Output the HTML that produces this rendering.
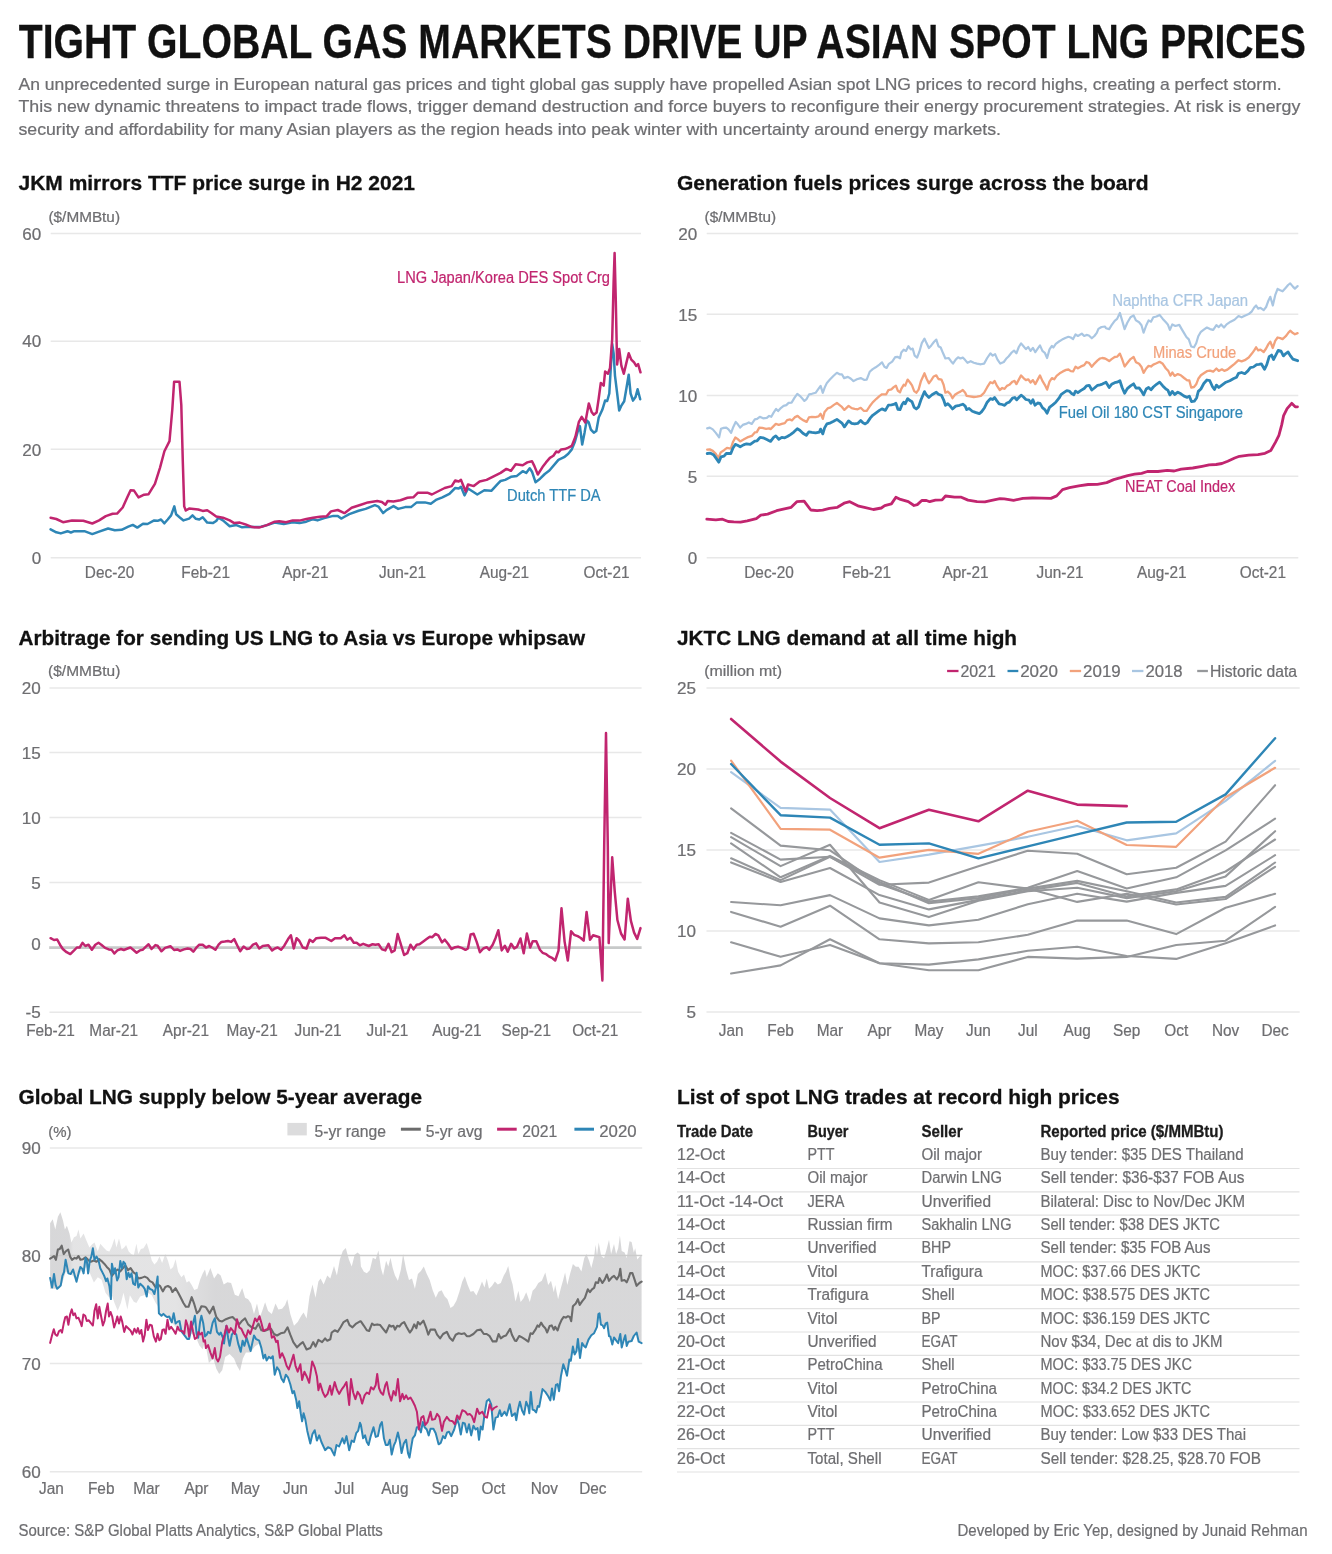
<!DOCTYPE html>
<html lang="en"><head><meta charset="utf-8"><title>Tight global gas markets drive up Asian spot LNG prices</title>
<style>
html,body{margin:0;padding:0;background:#fff}
svg{display:block;font-family:"Liberation Sans",sans-serif}
</style></head><body>
<svg width="1332" height="1554" viewBox="0 0 1332 1554">
<rect width="1332" height="1554" fill="#fff"/>
<text x="18.8" y="57.7" font-size="48.3" font-weight="700" fill="#111" textLength="1287.0" lengthAdjust="spacingAndGlyphs" stroke="#111" stroke-width="0.3">TIGHT GLOBAL GAS MARKETS DRIVE UP ASIAN SPOT LNG PRICES</text>
<text x="18.5" y="90.3" font-size="15.9" fill="#6e6e71" textLength="1263.1" lengthAdjust="spacingAndGlyphs" stroke="#6e6e71" stroke-width="0.22">An unprecedented surge in European natural gas prices and tight global gas supply have propelled Asian spot LNG prices to record highs, creating a perfect storm.</text>
<text x="18.5" y="112.2" font-size="15.9" fill="#6e6e71" textLength="1281.8" lengthAdjust="spacingAndGlyphs" stroke="#6e6e71" stroke-width="0.22">This new dynamic threatens to impact trade flows, trigger demand destruction and force buyers to reconfigure their energy procurement strategies. At risk is energy</text>
<text x="18.5" y="135.0" font-size="15.9" fill="#6e6e71" textLength="982.5" lengthAdjust="spacingAndGlyphs" stroke="#6e6e71" stroke-width="0.22">security and affordability for many Asian players as the region heads into peak winter with uncertainty around energy markets.</text>
<text x="18.5" y="189.8" font-size="20.5" font-weight="700" fill="#111" textLength="396.5" lengthAdjust="spacingAndGlyphs" stroke="#111" stroke-width="0.3">JKM mirrors TTF price surge in H2 2021</text>
<text x="677.0" y="189.8" font-size="20.5" font-weight="700" fill="#111" textLength="471.5" lengthAdjust="spacingAndGlyphs" stroke="#111" stroke-width="0.3">Generation fuels prices surge across the board</text>
<text x="18.5" y="645.2" font-size="20.5" font-weight="700" fill="#111" textLength="566.5" lengthAdjust="spacingAndGlyphs" stroke="#111" stroke-width="0.3">Arbitrage for sending US LNG to Asia vs Europe whipsaw</text>
<text x="677.0" y="645.2" font-size="20.5" font-weight="700" fill="#111" textLength="340.0" lengthAdjust="spacingAndGlyphs" stroke="#111" stroke-width="0.3">JKTC LNG demand at all time high</text>
<text x="18.5" y="1103.8" font-size="20.5" font-weight="700" fill="#111" textLength="403.5" lengthAdjust="spacingAndGlyphs" stroke="#111" stroke-width="0.3">Global LNG supply below 5-year average</text>
<text x="677.0" y="1104.2" font-size="20.5" font-weight="700" fill="#111" textLength="442.5" lengthAdjust="spacingAndGlyphs" stroke="#111" stroke-width="0.3">List of spot LNG trades at record high prices</text>
<line x1="50.7" x2="641.0" y1="233.5" y2="233.5" stroke="#e8e8e8" stroke-width="1.5"/>
<text x="41.2" y="239.7" font-size="16" fill="#6e6e71" text-anchor="end" textLength="19.0" lengthAdjust="spacingAndGlyphs" stroke="#6e6e71" stroke-width="0.22">60</text>
<line x1="50.7" x2="641.0" y1="341.2" y2="341.2" stroke="#e8e8e8" stroke-width="1.5"/>
<text x="41.2" y="347.4" font-size="16" fill="#6e6e71" text-anchor="end" textLength="19.0" lengthAdjust="spacingAndGlyphs" stroke="#6e6e71" stroke-width="0.22">40</text>
<line x1="50.7" x2="641.0" y1="449.3" y2="449.3" stroke="#e8e8e8" stroke-width="1.5"/>
<text x="41.2" y="455.5" font-size="16" fill="#6e6e71" text-anchor="end" textLength="19.0" lengthAdjust="spacingAndGlyphs" stroke="#6e6e71" stroke-width="0.22">20</text>
<line x1="50.7" x2="641.0" y1="557.7" y2="557.7" stroke="#e8e8e8" stroke-width="1.5"/>
<text x="41.2" y="563.9" font-size="16" fill="#6e6e71" text-anchor="end" textLength="9.5" lengthAdjust="spacingAndGlyphs" stroke="#6e6e71" stroke-width="0.22">0</text>
<text x="48.5" y="222.0" font-size="14" fill="#6e6e71" textLength="71.5" lengthAdjust="spacingAndGlyphs" stroke="#6e6e71" stroke-width="0.22">($/MMBtu)</text>
<text x="109.6" y="577.8" font-size="16" fill="#6e6e71" text-anchor="middle" textLength="49.5" lengthAdjust="spacingAndGlyphs" stroke="#6e6e71" stroke-width="0.22">Dec-20</text>
<text x="205.6" y="577.8" font-size="16" fill="#6e6e71" text-anchor="middle" textLength="48.7" lengthAdjust="spacingAndGlyphs" stroke="#6e6e71" stroke-width="0.22">Feb-21</text>
<text x="305.4" y="577.8" font-size="16" fill="#6e6e71" text-anchor="middle" textLength="46.1" lengthAdjust="spacingAndGlyphs" stroke="#6e6e71" stroke-width="0.22">Apr-21</text>
<text x="402.5" y="577.8" font-size="16" fill="#6e6e71" text-anchor="middle" textLength="47.0" lengthAdjust="spacingAndGlyphs" stroke="#6e6e71" stroke-width="0.22">Jun-21</text>
<text x="504.4" y="577.8" font-size="16" fill="#6e6e71" text-anchor="middle" textLength="49.5" lengthAdjust="spacingAndGlyphs" stroke="#6e6e71" stroke-width="0.22">Aug-21</text>
<text x="606.5" y="577.8" font-size="16" fill="#6e6e71" text-anchor="middle" textLength="46.1" lengthAdjust="spacingAndGlyphs" stroke="#6e6e71" stroke-width="0.22">Oct-21</text>
<path d="M50.6,529.4 L56.3,532.3 L60.8,533.4 L67.5,531.2 L70.9,532.5 L74.3,531.2 L84.4,531.2 L92.3,534.1 L99.1,531.6 L108.1,528.5 L114.8,530.3 L121.6,529.8 L128.3,526.7 L132.8,524.9 L137.3,527.6 L143.0,523.7 L147.5,524.0 L154.2,520.4 L157.6,520.8 L161.0,519.5 L164.4,523.3 L167.7,519.5 L171.1,515.4 L174.3,506.4 L176.1,514.3 L180.1,517.7 L183.5,520.4 L189.1,518.6 L192.5,515.4 L195.9,518.8 L199.3,519.5 L202.7,517.2 L207.2,522.6 L212.8,523.1 L216.2,521.0 L218.4,517.7 L222.9,520.4 L229.7,526.2 L236.4,525.1 L242.1,527.3 L247.7,526.7 L254.5,527.1 L261.2,526.7 L268.0,524.9 L274.7,522.6 L283.7,524.0 L292.7,522.2 L299.5,523.1 L306.3,521.7 L313.0,519.2 L317.5,520.4 L324.3,518.1 L333.3,515.9 L337.8,515.9 L341.2,518.6 L344.1,517.0 L349.3,514.1 L358.6,510.8 L365.6,508.9 L374.9,505.2 L378.4,506.6 L383.1,513.1 L386.5,510.1 L393.5,506.1 L398.2,508.9 L405.2,507.1 L411.0,507.1 L416.8,502.4 L424.9,502.4 L430.8,503.8 L436.6,499.6 L442.4,497.3 L449.4,493.8 L455.2,488.0 L458.7,488.5 L461.0,486.8 L464.5,495.4 L468.0,488.5 L472.7,491.5 L477.3,494.5 L484.3,490.3 L491.3,490.8 L498.2,483.3 L500.6,481.0 L505.2,479.9 L511.0,476.8 L516.9,475.9 L522.7,471.2 L526.2,472.9 L529.7,468.2 L532.0,471.7 L535.5,482.2 L540.1,478.7 L544.8,474.0 L549.4,470.5 L558.4,459.9 L564.1,457.2 L568.3,453.7 L571.8,449.4 L574.7,442.3 L577.5,432.4 L579.9,426.1 L582.2,444.5 L584.6,432.4 L586.7,420.4 L588.8,422.5 L590.9,429.6 L593.8,432.7 L596.3,431.0 L598.7,417.6 L602.3,409.8 L605.1,400.6 L607.2,401.0 L609.3,393.5 L610.8,367.4 L612.2,344.0 L613.6,353.2 L615.0,375.8 L617.1,392.8 L619.2,410.5 L621.4,405.6 L624.2,401.3 L626.6,387.2 L628.7,374.7 L630.6,393.5 L633.0,400.6 L635.5,397.1 L637.6,389.3 L640.2,399.2" fill="none" stroke="#2e86b6" stroke-width="2.5" stroke-linejoin="round" stroke-linecap="round"/>
<path d="M50.6,517.7 L56.3,519.0 L63.0,522.2 L72.0,520.4 L83.3,520.8 L92.3,523.5 L99.1,520.4 L105.8,516.1 L112.6,513.8 L117.1,513.6 L122.7,507.5 L127.2,497.4 L130.6,490.2 L134.0,490.6 L138.5,497.4 L144.1,494.7 L148.6,494.2 L154.9,483.9 L159.9,468.1 L164.4,451.2 L169.5,441.1 L172.3,409.5 L174.1,381.8 L179.5,381.8 L181.3,405.0 L182.8,461.4 L184.2,506.4 L185.8,510.5 L189.1,508.6 L198.2,509.5 L202.7,510.9 L207.2,510.2 L211.7,513.2 L216.2,516.5 L222.9,517.7 L229.7,520.4 L234.2,523.1 L239.8,522.6 L245.5,524.4 L252.2,527.1 L259.0,527.6 L266.8,525.1 L274.7,521.7 L279.2,521.3 L286.0,522.2 L292.7,520.4 L299.5,520.6 L306.3,519.0 L313.0,517.7 L319.8,516.8 L326.5,516.3 L331.0,511.4 L337.8,510.0 L343.4,512.7 L344.7,513.1 L351.6,507.8 L360.9,504.8 L367.9,502.4 L377.2,501.0 L381.9,502.0 L385.4,504.8 L387.7,501.0 L393.5,501.5 L400.5,500.3 L407.5,497.8 L413.3,497.3 L418.0,492.7 L427.3,492.7 L431.9,494.5 L437.7,491.5 L444.7,488.0 L451.7,486.1 L455.2,480.5 L458.7,481.5 L461.0,479.9 L463.3,485.7 L465.7,491.5 L468.0,484.5 L473.8,486.1 L479.6,481.5 L486.6,479.9 L493.6,476.4 L500.6,472.9 L506.4,468.9 L511.0,470.8 L515.7,464.3 L522.7,465.2 L527.3,462.4 L532.0,461.2 L534.3,465.9 L537.8,474.5 L542.5,467.1 L546.0,462.4 L549.9,457.9 L553.4,455.8 L556.3,451.5 L558.4,452.3 L561.2,449.4 L564.8,449.1 L568.3,447.7 L571.8,445.9 L575.4,436.7 L578.9,421.8 L581.7,416.9 L585.3,422.5 L588.8,403.4 L591.6,411.9 L593.8,414.8 L596.6,412.6 L598.7,398.5 L600.8,382.9 L603.7,385.7 L605.1,371.6 L607.9,373.7 L610.0,368.1 L612.2,339.1 L613.6,282.5 L614.6,253.0 L615.7,296.6 L617.1,364.5 L619.2,349.0 L621.4,365.9 L623.8,373.7 L626.3,363.1 L628.7,353.2 L631.3,359.6 L634.1,362.4 L636.2,365.9 L638.1,364.2 L640.5,372.3" fill="none" stroke="#c1256f" stroke-width="2.5" stroke-linejoin="round" stroke-linecap="round"/>
<text x="397.0" y="282.5" font-size="16" fill="#c1256f" textLength="213.0" lengthAdjust="spacingAndGlyphs" stroke="#c1256f" stroke-width="0.22">LNG Japan/Korea DES Spot Crg</text>
<text x="507.1" y="500.8" font-size="16" fill="#2e86b6" textLength="93.5" lengthAdjust="spacingAndGlyphs" stroke="#2e86b6" stroke-width="0.22">Dutch TTF DA</text>
<line x1="706.7" x2="1298.3" y1="233.5" y2="233.5" stroke="#e8e8e8" stroke-width="1.5"/>
<text x="697.2" y="239.7" font-size="16" fill="#6e6e71" text-anchor="end" textLength="19.0" lengthAdjust="spacingAndGlyphs" stroke="#6e6e71" stroke-width="0.22">20</text>
<line x1="706.7" x2="1298.3" y1="314.3" y2="314.3" stroke="#e8e8e8" stroke-width="1.5"/>
<text x="697.2" y="320.5" font-size="16" fill="#6e6e71" text-anchor="end" textLength="19.0" lengthAdjust="spacingAndGlyphs" stroke="#6e6e71" stroke-width="0.22">15</text>
<line x1="706.7" x2="1298.3" y1="395.6" y2="395.6" stroke="#e8e8e8" stroke-width="1.5"/>
<text x="697.2" y="401.8" font-size="16" fill="#6e6e71" text-anchor="end" textLength="19.0" lengthAdjust="spacingAndGlyphs" stroke="#6e6e71" stroke-width="0.22">10</text>
<line x1="706.7" x2="1298.3" y1="476.3" y2="476.3" stroke="#e8e8e8" stroke-width="1.5"/>
<text x="697.2" y="482.5" font-size="16" fill="#6e6e71" text-anchor="end" textLength="9.5" lengthAdjust="spacingAndGlyphs" stroke="#6e6e71" stroke-width="0.22">5</text>
<line x1="706.7" x2="1298.3" y1="557.7" y2="557.7" stroke="#e8e8e8" stroke-width="1.5"/>
<text x="697.2" y="563.9" font-size="16" fill="#6e6e71" text-anchor="end" textLength="9.5" lengthAdjust="spacingAndGlyphs" stroke="#6e6e71" stroke-width="0.22">0</text>
<text x="704.6" y="222.0" font-size="14" fill="#6e6e71" textLength="71.5" lengthAdjust="spacingAndGlyphs" stroke="#6e6e71" stroke-width="0.22">($/MMBtu)</text>
<text x="769.0" y="577.8" font-size="16" fill="#6e6e71" text-anchor="middle" textLength="49.5" lengthAdjust="spacingAndGlyphs" stroke="#6e6e71" stroke-width="0.22">Dec-20</text>
<text x="866.7" y="577.8" font-size="16" fill="#6e6e71" text-anchor="middle" textLength="48.7" lengthAdjust="spacingAndGlyphs" stroke="#6e6e71" stroke-width="0.22">Feb-21</text>
<text x="965.5" y="577.8" font-size="16" fill="#6e6e71" text-anchor="middle" textLength="46.1" lengthAdjust="spacingAndGlyphs" stroke="#6e6e71" stroke-width="0.22">Apr-21</text>
<text x="1060.0" y="577.8" font-size="16" fill="#6e6e71" text-anchor="middle" textLength="47.0" lengthAdjust="spacingAndGlyphs" stroke="#6e6e71" stroke-width="0.22">Jun-21</text>
<text x="1161.8" y="577.8" font-size="16" fill="#6e6e71" text-anchor="middle" textLength="49.5" lengthAdjust="spacingAndGlyphs" stroke="#6e6e71" stroke-width="0.22">Aug-21</text>
<text x="1262.9" y="577.8" font-size="16" fill="#6e6e71" text-anchor="middle" textLength="46.1" lengthAdjust="spacingAndGlyphs" stroke="#6e6e71" stroke-width="0.22">Oct-21</text>
<path d="M707.2,428.4 L709.8,427.6 L712.8,429.4 L715.8,432.9 L719.1,437.4 L721.0,428.8 L723.7,427.9 L726.3,427.6 L728.5,429.4 L731.1,432.9 L733.3,426.9 L735.7,421.9 L737.8,424.3 L740.2,427.6 L742.8,424.9 L745.8,423.9 L748.8,422.4 L751.8,423.9 L754.8,419.4 L757.1,418.9 L759.8,416.8 L763.1,418.3 L766.8,417.9 L769.1,415.9 L771.3,416.8 L773.6,412.6 L776.1,408.9 L778.1,411.1 L781.1,407.8 L783.6,405.9 L786.3,405.1 L788.6,402.9 L791.6,402.6 L794.6,397.6 L797.3,393.8 L799.8,395.8 L802.1,398.3 L804.4,400.9 L806.6,399.1 L809.2,394.3 L811.9,393.8 L815.6,392.8 L818.6,388.6 L820.6,385.9 L822.8,392.8 L824.6,387.8 L826.9,382.9 L829.9,379.6 L833.6,375.8 L836.9,372.8 L839.6,374.3 L841.9,374.3 L844.1,378.1 L847.9,376.9 L850.9,378.8 L853.5,381.1 L856.9,379.3 L860.7,378.1 L864.4,379.9 L866.7,379.6 L869.7,371.8 L872.7,369.1 L875.7,367.3 L879.4,364.6 L882.0,362.3 L884.4,366.8 L886.6,367.9 L888.9,363.8 L892.2,361.6 L895.2,357.1 L897.4,356.8 L900.0,358.3 L901.3,352.5 L903.7,349.7 L906.0,350.9 L908.4,346.2 L910.8,349.4 L912.7,348.6 L914.7,355.7 L917.1,357.6 L919.4,351.7 L921.8,343.1 L924.5,338.6 L926.5,343.1 L928.9,348.1 L931.3,345.4 L934.1,341.8 L936.3,339.6 L938.4,346.2 L940.7,347.5 L943.1,353.3 L945.4,358.5 L948.6,358.0 L951.0,361.2 L953.0,363.6 L955.7,359.6 L958.1,357.3 L960.4,358.5 L962.8,357.6 L965.2,360.1 L967.5,362.8 L970.7,361.2 L973.8,362.8 L977.0,363.6 L980.9,364.3 L984.1,363.6 L987.2,358.0 L990.4,353.3 L992.7,355.7 L995.1,354.1 L997.5,359.6 L1000.3,363.6 L1003.8,362.0 L1006.1,358.8 L1008.5,356.5 L1011.7,352.5 L1014.0,350.6 L1016.4,353.3 L1018.8,347.0 L1021.1,343.4 L1023.5,346.2 L1025.9,349.1 L1028.2,347.0 L1030.6,350.9 L1032.9,347.8 L1035.3,352.2 L1037.7,348.6 L1040.0,345.4 L1042.4,350.9 L1044.8,352.8 L1047.1,358.0 L1049.5,349.4 L1051.9,345.9 L1053.4,347.5 L1055.8,343.8 L1059.0,341.5 L1062.1,339.6 L1065.3,338.0 L1068.4,336.8 L1070.8,337.5 L1073.1,339.1 L1075.5,334.4 L1077.9,336.0 L1081.8,333.6 L1084.2,336.0 L1086.5,334.9 L1088.9,335.5 L1091.8,338.3 L1094.4,336.0 L1096.8,332.8 L1098.4,328.9 L1101.5,327.0 L1105.0,326.5 L1106.0,328.3 L1109.2,329.1 L1111.6,325.2 L1114.7,320.8 L1117.1,318.9 L1119.9,312.9 L1122.1,320.4 L1124.6,329.1 L1127.3,322.8 L1130.5,317.3 L1133.6,315.4 L1136.0,320.4 L1139.1,322.3 L1141.5,325.2 L1143.6,332.7 L1146.2,325.5 L1148.6,320.4 L1151.0,321.7 L1153.3,317.3 L1156.5,316.5 L1159.6,314.9 L1162.8,318.9 L1165.9,322.3 L1167.8,324.4 L1169.9,329.9 L1172.3,324.4 L1175.4,326.0 L1179.3,324.9 L1181.7,329.1 L1184.1,333.1 L1186.4,337.0 L1188.8,339.4 L1191.2,346.5 L1194.0,347.3 L1196.2,343.3 L1198.3,336.2 L1200.9,331.8 L1203.8,329.6 L1206.9,327.5 L1210.1,329.1 L1213.2,329.9 L1216.4,325.2 L1218.8,327.1 L1221.1,324.4 L1224.0,327.5 L1226.6,324.4 L1230.6,321.7 L1234.5,319.7 L1238.5,316.0 L1241.6,317.3 L1244.8,315.7 L1248.7,314.1 L1251.9,311.3 L1254.2,307.5 L1256.1,305.5 L1258.2,308.6 L1260.5,307.8 L1263.7,310.2 L1266.1,307.0 L1268.4,300.7 L1270.3,296.8 L1272.8,305.5 L1275.2,295.2 L1277.6,288.9 L1280.2,290.2 L1282.6,291.3 L1285.8,287.7 L1288.1,285.0 L1290.2,283.4 L1292.9,286.6 L1294.9,288.6 L1297.6,286.1" fill="none" stroke="#a9c6e2" stroke-width="2.2" stroke-linejoin="round" stroke-linecap="round"/>
<path d="M707.2,449.7 L709.8,449.4 L712.8,450.9 L715.8,453.9 L718.3,458.4 L720.7,452.4 L724.0,450.2 L727.0,447.9 L730.8,448.6 L733.0,441.9 L735.3,437.4 L737.5,438.9 L740.2,441.4 L743.5,439.6 L747.3,437.4 L751.8,435.9 L754.8,432.4 L756.8,432.1 L759.3,427.6 L762.3,427.9 L766.1,428.8 L769.1,428.4 L770.6,429.1 L773.6,426.1 L775.8,423.9 L778.8,424.9 L781.8,423.9 L784.8,423.1 L787.1,420.1 L790.1,419.4 L791.9,420.4 L794.6,417.4 L797.6,415.9 L800.6,418.6 L803.6,420.4 L806.6,421.9 L808.9,417.4 L811.9,416.8 L815.6,417.1 L818.6,416.4 L820.6,413.8 L822.8,418.9 L824.6,411.9 L827.6,408.4 L830.6,407.4 L833.6,405.1 L836.9,402.9 L839.6,405.1 L841.9,406.9 L844.4,409.9 L848.6,405.9 L851.7,408.1 L854.7,408.9 L857.7,409.3 L860.7,407.8 L863.7,410.8 L866.7,410.8 L869.7,406.3 L872.7,402.4 L876.4,398.8 L879.4,396.1 L882.0,394.3 L886.2,394.3 L888.4,390.1 L891.4,389.3 L893.7,387.1 L895.9,385.6 L897.9,390.8 L900.0,392.3 L901.3,388.8 L903.7,384.8 L905.2,385.6 L907.6,379.6 L910.0,382.5 L912.0,385.3 L914.2,391.1 L916.3,392.7 L918.6,389.6 L921.0,380.9 L924.5,373.3 L926.5,378.5 L928.9,383.3 L931.3,380.1 L933.6,376.5 L936.3,375.4 L938.4,379.0 L941.5,379.6 L943.6,384.8 L945.4,392.7 L947.8,391.6 L950.2,393.8 L952.5,398.2 L954.9,394.8 L958.1,392.7 L960.4,391.6 L962.8,390.0 L965.2,392.7 L966.7,395.9 L969.9,396.3 L973.8,397.0 L977.0,396.7 L980.9,395.9 L984.1,392.7 L987.2,387.2 L990.4,382.2 L992.7,383.3 L994.6,380.9 L996.7,385.3 L999.8,390.0 L1002.2,388.0 L1004.6,388.8 L1006.9,385.9 L1009.3,384.8 L1012.5,381.7 L1014.5,380.9 L1016.4,384.1 L1018.8,379.6 L1021.1,375.4 L1023.5,378.1 L1025.9,380.1 L1028.2,379.3 L1030.6,382.5 L1032.9,380.1 L1035.3,384.1 L1037.7,379.6 L1040.0,375.4 L1042.4,380.9 L1044.8,384.8 L1047.1,389.6 L1049.5,381.7 L1051.9,378.1 L1054.2,379.3 L1056.6,375.9 L1059.7,373.3 L1062.9,371.4 L1066.1,369.9 L1068.4,369.5 L1070.8,371.1 L1073.1,371.4 L1075.5,366.7 L1077.9,368.3 L1081.0,366.4 L1084.2,365.1 L1086.5,362.0 L1088.9,362.8 L1091.8,366.7 L1094.4,363.6 L1097.6,360.4 L1100.0,358.5 L1102.3,358.0 L1105.0,358.5 L1106.0,359.1 L1109.2,361.1 L1111.6,359.1 L1114.7,357.0 L1117.1,356.7 L1119.9,353.6 L1122.1,359.1 L1124.6,366.5 L1127.3,363.0 L1130.5,359.1 L1133.6,357.0 L1136.0,362.2 L1139.1,363.8 L1141.5,367.0 L1143.6,372.8 L1146.2,368.5 L1148.6,365.9 L1151.0,366.5 L1153.3,364.6 L1156.5,363.3 L1159.6,361.8 L1162.8,363.8 L1165.9,368.5 L1168.3,370.9 L1170.4,375.6 L1172.3,372.5 L1174.6,375.9 L1177.8,374.1 L1180.9,375.3 L1184.1,378.0 L1187.2,380.4 L1189.3,380.4 L1191.2,387.5 L1194.0,387.0 L1196.2,384.3 L1198.3,378.8 L1200.9,375.3 L1203.8,373.3 L1206.9,371.2 L1210.1,370.6 L1213.2,371.7 L1216.4,368.5 L1218.8,370.9 L1221.9,369.3 L1224.3,370.9 L1227.4,369.6 L1230.6,367.0 L1234.5,363.8 L1238.5,360.2 L1241.6,361.4 L1244.8,360.2 L1248.7,357.5 L1251.9,353.6 L1254.2,350.4 L1256.1,347.3 L1258.2,350.4 L1260.5,349.6 L1263.7,352.0 L1266.1,348.5 L1268.4,344.1 L1270.3,341.7 L1272.8,348.0 L1275.2,340.9 L1277.6,337.5 L1280.2,338.1 L1282.6,339.1 L1285.8,336.2 L1288.1,333.1 L1290.2,330.7 L1292.9,333.1 L1294.9,334.3 L1297.6,333.1" fill="none" stroke="#f2a27c" stroke-width="2.3" stroke-linejoin="round" stroke-linecap="round"/>
<path d="M707.2,453.5 L710.5,453.2 L713.5,454.7 L716.2,458.4 L718.8,462.2 L721.0,456.9 L724.0,456.2 L726.3,453.5 L730.8,453.5 L733.0,447.9 L735.3,444.4 L737.5,445.3 L740.2,446.8 L743.5,444.9 L746.5,443.8 L750.3,444.4 L754.8,441.1 L757.1,440.8 L760.1,437.4 L763.1,437.8 L766.8,439.6 L770.6,441.4 L773.6,437.4 L775.8,435.9 L778.8,439.3 L781.8,437.4 L784.8,437.8 L787.8,436.3 L790.8,434.4 L793.8,432.1 L797.3,428.8 L799.8,430.3 L802.9,433.3 L806.3,435.4 L808.9,431.8 L811.9,432.4 L815.6,432.9 L819.4,432.1 L820.6,429.1 L822.8,433.9 L824.6,427.9 L826.9,423.9 L830.6,422.8 L833.6,421.3 L836.9,419.4 L839.6,421.3 L841.9,423.1 L844.4,426.9 L848.6,420.9 L851.7,423.4 L854.7,423.9 L857.7,423.4 L860.7,420.4 L862.9,422.8 L865.2,423.9 L867.4,422.4 L870.4,417.9 L872.7,415.3 L876.4,412.6 L879.4,410.4 L882.0,408.9 L885.4,410.4 L888.4,405.1 L891.4,404.8 L893.7,404.4 L895.9,403.3 L897.9,409.3 L900.0,409.6 L902.1,404.5 L903.7,402.2 L905.2,403.8 L907.6,398.6 L910.0,400.6 L912.0,401.7 L914.2,407.4 L916.3,409.0 L918.6,406.9 L921.0,399.8 L924.5,391.6 L926.5,395.1 L928.9,397.5 L932.0,394.8 L936.3,392.2 L938.4,394.3 L941.5,395.4 L943.6,399.8 L945.4,405.3 L947.8,403.8 L950.2,406.1 L952.5,409.0 L955.7,406.1 L959.6,405.3 L962.8,404.2 L965.2,406.1 L966.7,409.6 L969.1,408.5 L972.3,411.2 L975.4,412.4 L979.3,413.7 L981.7,411.6 L984.5,407.7 L987.2,402.2 L990.4,398.6 L992.7,399.5 L994.6,397.5 L996.7,400.6 L999.1,403.8 L1002.2,404.5 L1004.6,405.3 L1006.9,403.0 L1009.3,402.2 L1012.5,398.2 L1014.8,397.5 L1016.7,399.8 L1018.8,397.5 L1021.1,395.1 L1023.5,397.0 L1025.9,399.5 L1029.0,400.1 L1030.9,403.3 L1032.9,399.8 L1035.0,405.3 L1037.7,403.0 L1040.0,403.3 L1042.4,407.7 L1044.8,409.6 L1047.1,413.2 L1049.5,407.4 L1052.7,404.9 L1055.8,402.2 L1059.0,398.2 L1061.3,394.3 L1064.5,392.2 L1066.8,390.7 L1069.2,391.1 L1071.6,393.5 L1073.9,394.8 L1075.5,391.1 L1077.9,392.7 L1081.0,390.4 L1084.2,388.5 L1086.5,385.9 L1089.2,385.3 L1091.8,390.0 L1094.4,388.0 L1097.6,385.3 L1100.0,384.8 L1102.3,384.1 L1105.0,382.8 L1106.0,382.2 L1109.2,387.5 L1111.6,384.3 L1114.7,382.7 L1117.1,382.2 L1119.9,380.7 L1122.1,387.5 L1124.6,393.3 L1127.3,388.6 L1130.5,385.9 L1133.6,383.8 L1136.0,388.2 L1139.1,387.9 L1141.5,391.1 L1143.6,394.9 L1146.2,389.0 L1148.6,387.5 L1151.0,389.8 L1153.3,387.0 L1156.5,384.3 L1159.6,382.2 L1162.8,385.9 L1165.9,389.0 L1167.8,390.1 L1169.9,394.9 L1172.3,391.4 L1174.6,394.5 L1177.8,392.2 L1180.9,393.8 L1184.1,396.1 L1187.2,397.4 L1189.3,396.1 L1191.5,401.6 L1194.3,401.2 L1196.7,397.7 L1198.3,391.4 L1200.9,389.0 L1203.8,383.5 L1206.9,380.0 L1209.8,380.7 L1212.5,386.7 L1214.5,389.5 L1216.4,385.1 L1218.8,387.5 L1221.9,385.1 L1225.9,382.2 L1229.8,380.7 L1233.7,378.5 L1236.6,377.2 L1238.5,373.3 L1241.6,372.5 L1244.8,373.7 L1247.9,370.9 L1250.3,367.7 L1253.4,367.0 L1256.6,364.6 L1259.0,364.3 L1261.3,363.8 L1264.5,369.3 L1266.8,364.6 L1269.2,356.7 L1271.6,355.1 L1273.5,359.5 L1275.8,355.1 L1278.2,350.4 L1281.0,351.2 L1283.4,355.9 L1285.8,353.6 L1288.1,352.0 L1290.5,355.9 L1292.9,359.1 L1295.2,359.9 L1297.6,360.7" fill="none" stroke="#2e86b6" stroke-width="2.8" stroke-linejoin="round" stroke-linecap="round"/>
<path d="M706.8,519.2 L715.8,519.9 L722.5,519.2 L728.2,521.5 L733.8,521.9 L740.5,522.2 L747.3,520.8 L756.3,518.6 L760.8,515.2 L767.6,514.1 L776.6,510.7 L783.3,509.1 L791.2,507.3 L796.8,501.7 L804.1,501.2 L810.8,510.0 L817.1,510.7 L822.7,510.2 L829.5,508.4 L837.4,507.3 L844.1,503.2 L849.8,501.7 L854.3,503.9 L858.8,506.2 L864.4,507.3 L873.4,509.5 L881.3,508.0 L884.7,505.7 L891.4,503.9 L895.9,497.2 L900.5,499.4 L908.3,501.7 L914.0,505.5 L917.3,504.6 L921.8,500.5 L926.4,500.5 L929.7,501.7 L935.4,500.1 L942.1,499.9 L945.5,496.0 L954.5,497.2 L961.3,497.2 L968.0,500.1 L977.0,501.7 L984.9,501.9 L992.8,500.1 L1000.0,498.7 L1004.3,498.9 L1013.6,500.3 L1022.9,498.4 L1032.2,498.0 L1041.5,498.2 L1050.9,498.4 L1056.7,495.9 L1062.5,489.6 L1069.5,487.7 L1078.8,485.9 L1088.1,484.5 L1097.4,484.3 L1106.7,482.6 L1113.7,479.6 L1120.7,477.7 L1127.7,475.6 L1134.6,474.2 L1141.6,473.3 L1147.4,471.5 L1157.9,471.5 L1167.2,470.3 L1174.2,471.0 L1181.2,469.1 L1192.8,468.0 L1202.1,466.3 L1209.1,464.9 L1216.1,464.5 L1221.9,463.5 L1227.7,461.2 L1234.7,458.0 L1239.4,456.3 L1248.7,455.2 L1258.0,454.7 L1265.0,453.3 L1270.8,450.5 L1275.4,442.4 L1278.9,435.4 L1281.7,424.9 L1283.6,415.6 L1287.1,408.6 L1291.7,403.3 L1295.2,406.8 L1297.5,406.8" fill="none" stroke="#c1256f" stroke-width="2.8" stroke-linejoin="round" stroke-linecap="round"/>
<text x="1112.2" y="305.5" font-size="16" fill="#a9c6e2" textLength="135.9" lengthAdjust="spacingAndGlyphs" stroke="#a9c6e2" stroke-width="0.22">Naphtha CFR Japan</text>
<text x="1152.9" y="358.3" font-size="16" fill="#f2a27c" textLength="83.4" lengthAdjust="spacingAndGlyphs" stroke="#f2a27c" stroke-width="0.22">Minas Crude</text>
<text x="1058.7" y="418.2" font-size="16" fill="#2e86b6" textLength="184.3" lengthAdjust="spacingAndGlyphs" stroke="#2e86b6" stroke-width="0.22">Fuel Oil 180 CST Singapore</text>
<text x="1125.1" y="492.0" font-size="16" fill="#c1256f" textLength="110.1" lengthAdjust="spacingAndGlyphs" stroke="#c1256f" stroke-width="0.22">NEAT Coal Index</text>
<line x1="49.5" x2="641.6" y1="688.0" y2="688.0" stroke="#e8e8e8" stroke-width="1.5"/>
<text x="40.8" y="694.2" font-size="16" fill="#6e6e71" text-anchor="end" textLength="19.0" lengthAdjust="spacingAndGlyphs" stroke="#6e6e71" stroke-width="0.22">20</text>
<line x1="49.5" x2="641.6" y1="752.6" y2="752.6" stroke="#e8e8e8" stroke-width="1.5"/>
<text x="40.8" y="758.8" font-size="16" fill="#6e6e71" text-anchor="end" textLength="19.0" lengthAdjust="spacingAndGlyphs" stroke="#6e6e71" stroke-width="0.22">15</text>
<line x1="49.5" x2="641.6" y1="817.4" y2="817.4" stroke="#e8e8e8" stroke-width="1.5"/>
<text x="40.8" y="823.6" font-size="16" fill="#6e6e71" text-anchor="end" textLength="19.0" lengthAdjust="spacingAndGlyphs" stroke="#6e6e71" stroke-width="0.22">10</text>
<line x1="49.5" x2="641.6" y1="882.5" y2="882.5" stroke="#e8e8e8" stroke-width="1.5"/>
<text x="40.8" y="888.7" font-size="16" fill="#6e6e71" text-anchor="end" textLength="9.5" lengthAdjust="spacingAndGlyphs" stroke="#6e6e71" stroke-width="0.22">5</text>
<line x1="49.2" x2="641.6" y1="947.6" y2="947.6" stroke="#c7c9c9" stroke-width="2.8"/>
<text x="40.8" y="949.8" font-size="16" fill="#6e6e71" text-anchor="end" textLength="9.5" lengthAdjust="spacingAndGlyphs" stroke="#6e6e71" stroke-width="0.22">0</text>
<line x1="49.5" x2="641.6" y1="1012.2" y2="1012.2" stroke="#e8e8e8" stroke-width="1.5"/>
<text x="40.8" y="1018.4" font-size="16" fill="#6e6e71" text-anchor="end" textLength="15.2" lengthAdjust="spacingAndGlyphs" stroke="#6e6e71" stroke-width="0.22">-5</text>
<text x="48.1" y="676.0" font-size="14" fill="#6e6e71" textLength="72.2" lengthAdjust="spacingAndGlyphs" stroke="#6e6e71" stroke-width="0.22">($/MMBtu)</text>
<text x="50.5" y="1035.6" font-size="16" fill="#6e6e71" text-anchor="middle" textLength="48.7" lengthAdjust="spacingAndGlyphs" stroke="#6e6e71" stroke-width="0.22">Feb-21</text>
<text x="113.7" y="1035.6" font-size="16" fill="#6e6e71" text-anchor="middle" textLength="48.7" lengthAdjust="spacingAndGlyphs" stroke="#6e6e71" stroke-width="0.22">Mar-21</text>
<text x="185.9" y="1035.6" font-size="16" fill="#6e6e71" text-anchor="middle" textLength="46.1" lengthAdjust="spacingAndGlyphs" stroke="#6e6e71" stroke-width="0.22">Apr-21</text>
<text x="252.1" y="1035.6" font-size="16" fill="#6e6e71" text-anchor="middle" textLength="51.2" lengthAdjust="spacingAndGlyphs" stroke="#6e6e71" stroke-width="0.22">May-21</text>
<text x="318.0" y="1035.6" font-size="16" fill="#6e6e71" text-anchor="middle" textLength="47.0" lengthAdjust="spacingAndGlyphs" stroke="#6e6e71" stroke-width="0.22">Jun-21</text>
<text x="387.5" y="1035.6" font-size="16" fill="#6e6e71" text-anchor="middle" textLength="41.8" lengthAdjust="spacingAndGlyphs" stroke="#6e6e71" stroke-width="0.22">Jul-21</text>
<text x="456.9" y="1035.6" font-size="16" fill="#6e6e71" text-anchor="middle" textLength="49.5" lengthAdjust="spacingAndGlyphs" stroke="#6e6e71" stroke-width="0.22">Aug-21</text>
<text x="526.2" y="1035.6" font-size="16" fill="#6e6e71" text-anchor="middle" textLength="49.5" lengthAdjust="spacingAndGlyphs" stroke="#6e6e71" stroke-width="0.22">Sep-21</text>
<text x="595.2" y="1035.6" font-size="16" fill="#6e6e71" text-anchor="middle" textLength="46.1" lengthAdjust="spacingAndGlyphs" stroke="#6e6e71" stroke-width="0.22">Oct-21</text>
<path d="M50.6,938.2 L54.0,940.0 L57.2,939.5 L60.0,944.7 L62.8,949.0 L66.6,952.2 L70.3,954.1 L74.1,950.4 L76.9,947.5 L79.7,947.5 L82.5,942.8 L85.4,946.0 L88.5,944.7 L91.9,949.8 L95.3,944.7 L98.5,942.8 L101.3,944.7 L105.1,947.9 L108.8,949.4 L111.6,949.8 L114.4,953.5 L117.3,950.4 L121.0,949.0 L123.8,950.0 L127.6,948.5 L130.4,947.5 L133.2,949.8 L136.6,952.8 L139.8,950.4 L142.6,949.8 L145.4,947.2 L148.6,944.3 L151.6,949.0 L155.4,945.1 L157.6,945.7 L161.4,951.3 L165.1,947.9 L170.4,946.2 L174.1,950.0 L177.3,949.4 L180.1,950.9 L183.9,949.4 L187.6,948.5 L190.5,949.0 L193.3,951.7 L196.1,947.9 L199.3,944.7 L202.7,944.7 L206.0,947.5 L209.2,946.0 L212.0,947.5 L215.4,949.8 L218.6,944.7 L221.4,941.9 L224.8,941.5 L228.0,941.0 L231.2,941.9 L234.2,939.1 L237.4,945.7 L240.2,951.3 L243.6,946.6 L246.8,949.0 L249.6,948.5 L253.0,944.7 L256.1,943.4 L259.3,948.5 L262.7,946.0 L268.3,945.3 L272.1,950.4 L274.9,948.5 L277.7,947.5 L281.1,949.8 L284.3,945.7 L288.1,939.1 L290.9,935.3 L293.8,948.5 L296.6,938.2 L299.4,941.0 L302.8,947.5 L306.5,948.5 L309.7,939.7 L312.9,941.9 L316.3,938.2 L321.0,937.8 L325.7,937.8 L331.3,941.0 L335.0,938.2 L340.7,938.2 L344.4,935.3 L347.2,939.7 L350.4,937.8 L353.8,942.8 L356.6,942.8 L359.8,945.3 L363.2,943.8 L368.8,946.0 L372.6,944.2 L375.4,944.7 L378.6,944.3 L382.0,949.4 L385.3,950.4 L388.5,943.8 L391.7,952.2 L394.7,950.4 L397.7,934.0 L400.7,943.8 L404.1,955.0 L407.3,953.2 L410.5,944.7 L413.5,949.4 L416.7,944.7 L419.5,944.3 L423.3,941.5 L426.6,939.1 L429.8,936.7 L432.3,937.2 L435.5,934.0 L438.3,935.3 L442.0,942.3 L444.8,939.7 L448.0,943.8 L451.4,949.0 L455.2,947.2 L458.0,946.6 L461.7,947.9 L465.5,949.8 L467.9,948.5 L470.6,934.4 L473.6,933.8 L476.7,941.9 L479.9,952.2 L483.3,948.5 L486.7,947.2 L489.3,949.8 L492.7,944.7 L495.5,938.2 L498.3,930.3 L501.7,950.4 L504.9,945.7 L507.7,951.7 L511.1,943.8 L514.3,948.5 L517.1,946.6 L520.5,938.5 L523.7,953.2 L526.9,933.5 L530.2,947.5 L532.7,941.3 L536.3,941.3 L539.9,949.7 L542.6,952.8 L546.2,954.2 L548.9,956.4 L552.5,958.2 L555.2,960.5 L558.5,950.6 L561.5,908.3 L564.6,941.6 L567.8,960.5 L571.1,931.2 L574.1,934.8 L577.7,936.2 L580.8,938.0 L583.7,940.7 L586.6,911.9 L590.0,939.8 L593.1,935.3 L596.3,936.2 L599.4,937.1 L602.4,980.4 L604.2,846.1 L606.0,733.0 L607.8,846.1 L608.7,943.1 L610.5,900.2 L612.2,857.3 L614.7,891.2 L617.4,920.0 L621.0,933.5 L624.6,939.5 L627.8,898.7 L630.9,920.9 L634.1,932.6 L637.2,938.9 L640.5,928.1" fill="none" stroke="#c1256f" stroke-width="2.5" stroke-linejoin="round" stroke-linecap="round"/>
<line x1="706.5" x2="1299.7" y1="688.0" y2="688.0" stroke="#e8e8e8" stroke-width="1.5"/>
<text x="696.0" y="694.2" font-size="16" fill="#6e6e71" text-anchor="end" textLength="19.0" lengthAdjust="spacingAndGlyphs" stroke="#6e6e71" stroke-width="0.22">25</text>
<line x1="706.5" x2="1299.7" y1="768.9" y2="768.9" stroke="#e8e8e8" stroke-width="1.5"/>
<text x="696.0" y="775.1" font-size="16" fill="#6e6e71" text-anchor="end" textLength="19.0" lengthAdjust="spacingAndGlyphs" stroke="#6e6e71" stroke-width="0.22">20</text>
<line x1="706.5" x2="1299.7" y1="849.9" y2="849.9" stroke="#e8e8e8" stroke-width="1.5"/>
<text x="696.0" y="856.1" font-size="16" fill="#6e6e71" text-anchor="end" textLength="19.0" lengthAdjust="spacingAndGlyphs" stroke="#6e6e71" stroke-width="0.22">15</text>
<line x1="706.5" x2="1299.7" y1="930.9" y2="930.9" stroke="#e8e8e8" stroke-width="1.5"/>
<text x="696.0" y="937.1" font-size="16" fill="#6e6e71" text-anchor="end" textLength="19.0" lengthAdjust="spacingAndGlyphs" stroke="#6e6e71" stroke-width="0.22">10</text>
<line x1="706.5" x2="1299.7" y1="1012.1" y2="1012.1" stroke="#e8e8e8" stroke-width="1.5"/>
<text x="696.0" y="1018.3" font-size="16" fill="#6e6e71" text-anchor="end" textLength="9.5" lengthAdjust="spacingAndGlyphs" stroke="#6e6e71" stroke-width="0.22">5</text>
<text x="704.2" y="676.0" font-size="14" fill="#6e6e71" textLength="77.9" lengthAdjust="spacingAndGlyphs" stroke="#6e6e71" stroke-width="0.22">(million mt)</text>
<text x="731.1" y="1035.6" font-size="16" fill="#6e6e71" text-anchor="middle" textLength="24.8" lengthAdjust="spacingAndGlyphs" stroke="#6e6e71" stroke-width="0.22">Jan</text>
<text x="780.6" y="1035.6" font-size="16" fill="#6e6e71" text-anchor="middle" textLength="26.5" lengthAdjust="spacingAndGlyphs" stroke="#6e6e71" stroke-width="0.22">Feb</text>
<text x="830.0" y="1035.6" font-size="16" fill="#6e6e71" text-anchor="middle" textLength="26.5" lengthAdjust="spacingAndGlyphs" stroke="#6e6e71" stroke-width="0.22">Mar</text>
<text x="879.5" y="1035.6" font-size="16" fill="#6e6e71" text-anchor="middle" textLength="23.9" lengthAdjust="spacingAndGlyphs" stroke="#6e6e71" stroke-width="0.22">Apr</text>
<text x="928.9" y="1035.6" font-size="16" fill="#6e6e71" text-anchor="middle" textLength="29.0" lengthAdjust="spacingAndGlyphs" stroke="#6e6e71" stroke-width="0.22">May</text>
<text x="978.4" y="1035.6" font-size="16" fill="#6e6e71" text-anchor="middle" textLength="24.8" lengthAdjust="spacingAndGlyphs" stroke="#6e6e71" stroke-width="0.22">Jun</text>
<text x="1027.8" y="1035.6" font-size="16" fill="#6e6e71" text-anchor="middle" textLength="19.6" lengthAdjust="spacingAndGlyphs" stroke="#6e6e71" stroke-width="0.22">Jul</text>
<text x="1077.2" y="1035.6" font-size="16" fill="#6e6e71" text-anchor="middle" textLength="27.3" lengthAdjust="spacingAndGlyphs" stroke="#6e6e71" stroke-width="0.22">Aug</text>
<text x="1126.7" y="1035.6" font-size="16" fill="#6e6e71" text-anchor="middle" textLength="27.3" lengthAdjust="spacingAndGlyphs" stroke="#6e6e71" stroke-width="0.22">Sep</text>
<text x="1176.2" y="1035.6" font-size="16" fill="#6e6e71" text-anchor="middle" textLength="23.9" lengthAdjust="spacingAndGlyphs" stroke="#6e6e71" stroke-width="0.22">Oct</text>
<text x="1225.6" y="1035.6" font-size="16" fill="#6e6e71" text-anchor="middle" textLength="27.3" lengthAdjust="spacingAndGlyphs" stroke="#6e6e71" stroke-width="0.22">Nov</text>
<text x="1275.1" y="1035.6" font-size="16" fill="#6e6e71" text-anchor="middle" textLength="27.3" lengthAdjust="spacingAndGlyphs" stroke="#6e6e71" stroke-width="0.22">Dec</text>
<path d="M731.1,808.3 L780.6,845.6 L830.0,850.3 L879.5,883.9 L928.9,901.6 L978.4,896.4 L1027.8,887.8 L1077.2,871.0 L1126.7,888.6 L1176.2,877.3 L1225.6,850.3 L1275.1,818.7" fill="none" stroke="#96989b" stroke-width="2.1" stroke-linejoin="round" stroke-linecap="round"/>
<path d="M731.1,832.9 L780.6,859.6 L830.0,856.8 L879.5,882.0 L928.9,903.3 L978.4,898.1 L1027.8,888.6 L1077.2,880.9 L1126.7,891.2 L1176.2,902.5 L1225.6,896.9 L1275.1,862.5" fill="none" stroke="#96989b" stroke-width="2.1" stroke-linejoin="round" stroke-linecap="round"/>
<path d="M731.1,837.2 L780.6,866.1 L830.0,844.7 L879.5,902.5 L928.9,917.1 L978.4,900.7 L1027.8,891.2 L1077.2,887.8 L1126.7,898.1 L1176.2,891.2 L1225.6,876.4 L1275.1,831.2" fill="none" stroke="#96989b" stroke-width="2.1" stroke-linejoin="round" stroke-linecap="round"/>
<path d="M731.1,843.4 L780.6,877.3 L830.0,855.9 L879.5,880.1 L928.9,899.9 L978.4,882.3 L1027.8,888.6 L1077.2,901.9 L1126.7,893.8 L1176.2,904.5 L1225.6,899.0 L1275.1,866.8" fill="none" stroke="#96989b" stroke-width="2.1" stroke-linejoin="round" stroke-linecap="round"/>
<path d="M731.1,858.3 L780.6,880.1 L830.0,856.8 L879.5,884.8 L928.9,882.6 L978.4,866.2 L1027.8,850.7 L1077.2,853.8 L1126.7,874.3 L1176.2,867.7 L1225.6,841.6 L1275.1,785.2" fill="none" stroke="#96989b" stroke-width="2.1" stroke-linejoin="round" stroke-linecap="round"/>
<path d="M731.1,862.4 L780.6,882.0 L830.0,868.0 L879.5,895.1 L928.9,909.4 L978.4,899.9 L1027.8,890.4 L1077.2,882.9 L1126.7,896.4 L1176.2,889.4 L1225.6,871.5 L1275.1,839.5" fill="none" stroke="#96989b" stroke-width="2.1" stroke-linejoin="round" stroke-linecap="round"/>
<path d="M731.1,902.0 L780.6,905.3 L830.0,895.1 L879.5,918.4 L928.9,925.4 L978.4,919.7 L1027.8,904.2 L1077.2,893.8 L1126.7,901.6 L1176.2,892.9 L1225.6,885.9 L1275.1,855.2" fill="none" stroke="#96989b" stroke-width="2.1" stroke-linejoin="round" stroke-linecap="round"/>
<path d="M731.1,911.9 L780.6,926.8 L830.0,905.7 L879.5,939.3 L928.9,943.4 L978.4,942.2 L1027.8,934.8 L1077.2,920.6 L1126.7,920.6 L1176.2,934.1 L1225.6,907.7 L1275.1,893.8" fill="none" stroke="#96989b" stroke-width="2.1" stroke-linejoin="round" stroke-linecap="round"/>
<path d="M731.1,942.3 L780.6,956.7 L830.0,944.9 L879.5,963.2 L928.9,964.6 L978.4,959.4 L1027.8,950.8 L1077.2,946.8 L1126.7,956.0 L1176.2,958.9 L1225.6,943.3 L1275.1,925.4" fill="none" stroke="#96989b" stroke-width="2.1" stroke-linejoin="round" stroke-linecap="round"/>
<path d="M731.1,973.5 L780.6,965.4 L830.0,939.3 L879.5,963.2 L928.9,970.3 L978.4,970.3 L1027.8,956.9 L1077.2,958.6 L1126.7,956.9 L1176.2,945.0 L1225.6,940.7 L1275.1,906.8" fill="none" stroke="#96989b" stroke-width="2.1" stroke-linejoin="round" stroke-linecap="round"/>
<path d="M731.1,772.2 L780.6,807.9 L830.0,809.6 L879.5,862.0 L928.9,854.6 L978.4,845.8 L1027.8,836.8 L1077.2,826.0 L1126.7,840.3 L1176.2,833.3 L1225.6,800.8 L1275.1,760.8" fill="none" stroke="#a9c6e2" stroke-width="2.2" stroke-linejoin="round" stroke-linecap="round"/>
<path d="M731.1,760.7 L780.6,828.8 L830.0,829.7 L879.5,857.7 L928.9,849.8 L978.4,853.8 L1027.8,831.7 L1077.2,820.8 L1126.7,845.0 L1176.2,846.8 L1225.6,797.3 L1275.1,767.8" fill="none" stroke="#f2a27c" stroke-width="2.2" stroke-linejoin="round" stroke-linecap="round"/>
<path d="M731.1,764.0 L780.6,815.2 L830.0,817.6 L879.5,844.7 L928.9,843.4 L978.4,858.4 L1027.8,846.3 L1077.2,834.4 L1126.7,822.5 L1176.2,821.7 L1225.6,794.4 L1275.1,738.2" fill="none" stroke="#2e86b6" stroke-width="2.4" stroke-linejoin="round" stroke-linecap="round"/>
<path d="M731.1,719.0 L780.6,761.6 L830.0,798.0 L879.5,828.2 L928.9,809.7 L978.4,821.3 L1027.8,790.7 L1077.2,804.6 L1126.7,806.1" fill="none" stroke="#c1256f" stroke-width="2.6" stroke-linejoin="round" stroke-linecap="round"/>
<line x1="947.1" x2="958.5" y1="671.0" y2="671.0" stroke="#c1256f" stroke-width="2.3"/>
<text x="960.4" y="676.7" font-size="16" fill="#6e6e71" textLength="35.4" lengthAdjust="spacingAndGlyphs" stroke="#6e6e71" stroke-width="0.22">2021</text>
<line x1="1007.5" x2="1018.3" y1="671.0" y2="671.0" stroke="#2e86b6" stroke-width="2.3"/>
<text x="1020.2" y="676.7" font-size="16" fill="#6e6e71" textLength="37.7" lengthAdjust="spacingAndGlyphs" stroke="#6e6e71" stroke-width="0.22">2020</text>
<line x1="1069.8" x2="1081.1" y1="671.0" y2="671.0" stroke="#f2a27c" stroke-width="2.3"/>
<text x="1083.1" y="676.7" font-size="16" fill="#6e6e71" textLength="37.6" lengthAdjust="spacingAndGlyphs" stroke="#6e6e71" stroke-width="0.22">2019</text>
<line x1="1132.0" x2="1143.4" y1="671.0" y2="671.0" stroke="#a9c6e2" stroke-width="2.3"/>
<text x="1145.4" y="676.7" font-size="16" fill="#6e6e71" textLength="37.1" lengthAdjust="spacingAndGlyphs" stroke="#6e6e71" stroke-width="0.22">2018</text>
<line x1="1197.2" x2="1207.9" y1="671.0" y2="671.0" stroke="#96989b" stroke-width="2.3"/>
<text x="1209.9" y="676.7" font-size="16" fill="#6e6e71" textLength="87.2" lengthAdjust="spacingAndGlyphs" stroke="#6e6e71" stroke-width="0.22">Historic data</text>
<line x1="49.8" x2="642.2" y1="1147.9" y2="1147.9" stroke="#e8e8e8" stroke-width="1.5"/>
<line x1="49.8" x2="642.2" y1="1363.4" y2="1363.4" stroke="#e8e8e8" stroke-width="1.5"/>
<line x1="49.8" x2="642.2" y1="1471.7" y2="1471.7" stroke="#e8e8e8" stroke-width="1.5"/>
<defs><linearGradient id="bg" gradientUnits="userSpaceOnUse" x1="50" y1="0" x2="642" y2="0"><stop offset="0.0000" stop-color="#a9a9ac" stop-opacity="0.46"/><stop offset="0.0321" stop-color="#a9a9ac" stop-opacity="0.46"/><stop offset="0.0389" stop-color="#a9a9ac" stop-opacity="0.32"/><stop offset="0.2111" stop-color="#a9a9ac" stop-opacity="0.32"/><stop offset="0.2787" stop-color="#a9a9ac" stop-opacity="0.46"/><stop offset="1.0000" stop-color="#a9a9ac" stop-opacity="0.46"/></linearGradient></defs>
<path d="M50.1,1223.2 L52.7,1219.3 L55.3,1229.6 L57.9,1216.7 L60.4,1212.2 L63.0,1220.6 L64.9,1229.6 L66.9,1225.7 L69.5,1233.5 L71.4,1242.5 L74.0,1237.3 L76.5,1236.0 L78.5,1229.6 L80.4,1238.6 L83.6,1233.5 L86.2,1239.9 L89.4,1247.6 L92.0,1244.4 L94.5,1242.5 L97.8,1251.5 L100.3,1243.8 L103.6,1247.6 L106.8,1250.8 L109.4,1251.5 L111.9,1246.3 L114.5,1238.6 L116.4,1247.6 L119.0,1238.6 L121.6,1249.5 L124.2,1247.6 L126.1,1245.0 L128.7,1251.5 L131.2,1254.1 L133.8,1255.3 L136.4,1243.8 L138.3,1254.1 L140.9,1248.9 L143.5,1248.3 L146.7,1243.1 L149.2,1250.8 L151.8,1260.5 L154.4,1264.4 L157.0,1261.8 L159.5,1256.6 L162.1,1263.1 L165.3,1254.1 L167.9,1260.5 L170.5,1269.5 L173.1,1266.9 L175.6,1259.2 L178.2,1272.1 L181.4,1277.2 L184.0,1274.6 L186.6,1282.4 L189.1,1281.1 L191.7,1284.9 L194.3,1290.1 L197.5,1288.8 L200.1,1279.8 L202.7,1273.4 L205.0,1269.5 L206.7,1277.0 L210.4,1268.1 L214.1,1278.5 L217.8,1273.3 L220.7,1275.5 L223.7,1284.4 L227.4,1282.2 L231.1,1282.9 L234.8,1294.8 L238.5,1296.2 L242.2,1288.1 L245.1,1297.7 L248.1,1299.2 L251.1,1303.6 L254.0,1314.0 L257.0,1303.6 L259.9,1317.0 L262.2,1311.0 L265.1,1302.2 L268.1,1311.0 L271.8,1314.0 L275.5,1303.6 L278.4,1309.6 L282.1,1308.8 L285.1,1305.1 L287.3,1299.2 L290.3,1314.0 L294.0,1325.8 L297.7,1322.1 L301.4,1315.5 L303.6,1312.5 L306.6,1318.4 L309.5,1296.2 L312.5,1284.4 L315.5,1297.7 L318.4,1281.4 L320.6,1278.5 L323.6,1284.4 L327.3,1275.5 L330.3,1278.5 L334.0,1265.9 L336.9,1275.5 L339.9,1259.2 L342.8,1251.1 L345.8,1248.1 L348.8,1259.2 L351.7,1266.6 L354.7,1254.8 L357.6,1252.6 L360.0,1254.8 L360.9,1266.6 L363.9,1271.8 L366.8,1273.3 L369.8,1270.3 L372.8,1257.8 L375.7,1259.2 L378.4,1250.4 L380.9,1268.1 L383.1,1275.5 L386.1,1260.7 L388.3,1266.6 L390.5,1257.8 L392.7,1268.1 L395.0,1275.5 L397.9,1280.7 L400.9,1269.6 L403.1,1254.1 L406.1,1269.6 L409.0,1280.0 L412.0,1278.5 L414.9,1288.8 L417.9,1274.0 L420.9,1271.1 L423.8,1266.6 L426.8,1274.0 L429.7,1280.0 L432.7,1290.3 L435.7,1297.7 L438.6,1291.8 L441.6,1290.3 L444.6,1296.2 L447.5,1299.2 L450.5,1308.1 L453.4,1305.9 L456.4,1300.7 L459.4,1291.8 L462.3,1281.4 L464.8,1276.3 L467.5,1284.4 L470.5,1291.8 L473.4,1291.1 L476.4,1295.5 L479.3,1288.8 L482.0,1281.4 L484.5,1287.4 L486.7,1278.5 L489.0,1288.8 L491.9,1285.9 L494.9,1281.4 L497.8,1284.4 L500.8,1282.9 L503.8,1275.5 L506.0,1271.8 L508.2,1265.9 L510.4,1277.0 L512.6,1284.4 L515.0,1299.2 L515.6,1301.4 L518.4,1290.8 L520.6,1302.1 L523.4,1298.5 L526.2,1292.2 L529.8,1302.1 L532.6,1290.8 L535.4,1287.9 L538.3,1283.0 L541.8,1280.8 L545.3,1272.4 L548.2,1285.1 L551.0,1280.8 L553.8,1292.2 L555.2,1285.1 L558.1,1299.2 L560.9,1287.9 L563.3,1279.4 L565.1,1272.4 L567.3,1285.1 L570.1,1273.8 L572.9,1263.9 L575.8,1266.7 L578.6,1266.7 L581.4,1271.6 L584.2,1258.2 L586.4,1254.0 L589.2,1261.0 L591.3,1268.1 L594.1,1256.8 L595.6,1244.8 L597.0,1255.4 L598.7,1242.6 L601.2,1256.1 L604.1,1258.2 L606.9,1248.3 L609.0,1239.8 L611.1,1254.0 L614.0,1244.1 L616.1,1254.0 L618.2,1248.3 L619.9,1235.6 L621.7,1251.1 L624.6,1252.5 L626.7,1258.2 L629.5,1241.2 L631.6,1241.9 L633.8,1252.5 L635.2,1248.3 L637.3,1259.6 L639.4,1256.8 L641.6,1255.4 L641.6,1343.1 L638.7,1341.7 L636.6,1332.5 L633.8,1336.0 L631.6,1341.0 L628.4,1341.7 L626.7,1345.9 L625.3,1335.3 L623.9,1339.6 L621.7,1347.4 L620.3,1333.9 L618.2,1343.1 L616.1,1340.3 L614.0,1337.4 L612.3,1344.5 L610.4,1336.7 L609.0,1336.0 L607.2,1322.6 L605.7,1323.3 L604.1,1328.2 L602.6,1325.4 L600.9,1324.7 L599.5,1313.4 L598.4,1314.1 L597.0,1326.8 L594.1,1333.2 L591.3,1335.3 L588.5,1339.6 L585.7,1347.4 L584.0,1345.9 L582.1,1343.1 L580.0,1358.0 L577.9,1338.9 L576.5,1350.9 L574.6,1354.4 L572.9,1346.6 L570.8,1360.8 L569.4,1359.4 L567.0,1375.7 L565.1,1369.3 L563.3,1364.3 L560.9,1376.4 L559.1,1391.2 L557.6,1384.1 L555.9,1384.9 L553.8,1399.7 L552.0,1388.4 L550.3,1400.4 L548.2,1396.2 L545.3,1391.9 L542.5,1389.1 L539.2,1406.8 L537.8,1406.1 L536.1,1412.4 L534.4,1410.3 L532.6,1409.6 L530.8,1391.9 L529.3,1413.2 L528.3,1406.8 L526.2,1401.8 L524.1,1414.6 L522.0,1410.3 L519.9,1401.8 L518.0,1409.6 L516.3,1420.2 L515.0,1413.2 L511.9,1416.1 L509.7,1404.3 L506.7,1415.4 L504.5,1411.7 L501.5,1416.1 L499.8,1410.2 L497.8,1416.9 L495.6,1417.6 L493.4,1429.5 L491.2,1404.3 L489.0,1399.1 L486.7,1401.3 L484.5,1414.7 L482.6,1429.5 L480.8,1426.5 L479.0,1439.8 L477.6,1428.0 L475.6,1429.5 L473.4,1425.8 L471.2,1435.4 L469.0,1424.3 L466.8,1432.4 L464.8,1423.5 L462.8,1422.8 L460.8,1434.6 L458.9,1424.3 L457.1,1419.1 L454.2,1429.5 L451.2,1436.1 L449.0,1431.7 L447.1,1432.4 L445.0,1438.3 L443.1,1436.1 L440.8,1442.8 L438.6,1444.3 L435.7,1433.2 L433.4,1428.7 L430.5,1428.7 L428.7,1435.4 L426.8,1429.5 L424.6,1427.2 L422.8,1422.1 L420.9,1432.4 L418.9,1427.2 L416.9,1427.2 L414.9,1435.4 L412.7,1438.3 L411.2,1447.2 L409.5,1457.6 L408.0,1453.1 L406.1,1439.8 L403.8,1443.5 L401.6,1453.1 L399.7,1440.6 L397.9,1432.4 L395.7,1441.3 L393.8,1445.7 L391.7,1454.6 L389.8,1439.8 L387.9,1445.0 L385.8,1445.0 L383.9,1438.3 L381.9,1422.1 L380.2,1425.0 L377.9,1436.1 L375.7,1436.9 L373.5,1427.2 L370.5,1436.9 L368.6,1445.0 L366.8,1442.0 L365.1,1435.4 L363.1,1438.3 L360.9,1425.0 L360.0,1422.8 L358.1,1430.9 L356.2,1433.2 L353.9,1442.0 L351.7,1440.6 L349.2,1450.2 L346.5,1436.1 L344.3,1443.5 L342.4,1438.3 L339.1,1446.5 L336.5,1445.0 L334.4,1455.4 L331.0,1448.7 L328.0,1447.2 L325.1,1450.2 L321.4,1442.0 L319.2,1435.4 L316.9,1440.6 L314.7,1430.2 L312.5,1433.9 L310.3,1443.5 L307.3,1430.9 L305.4,1419.8 L303.6,1413.2 L302.1,1421.3 L300.7,1413.2 L299.2,1401.3 L297.4,1408.0 L296.2,1399.9 L294.0,1391.0 L292.5,1393.2 L290.3,1384.3 L288.1,1377.7 L285.8,1374.7 L283.6,1382.1 L281.4,1378.4 L279.2,1370.3 L277.0,1367.3 L274.7,1374.7 L272.8,1356.2 L271.0,1358.4 L268.8,1356.9 L266.6,1360.6 L265.1,1354.7 L263.4,1358.4 L261.4,1348.1 L259.2,1343.6 L254.8,1346.6 L250.3,1352.5 L245.9,1352.5 L242.9,1358.4 L240.0,1371.0 L237.0,1365.8 L234.0,1358.4 L229.6,1354.0 L225.2,1356.9 L222.2,1370.3 L219.2,1374.0 L216.3,1368.8 L213.3,1358.4 L208.9,1362.9 L205.0,1341.6 L202.7,1349.3 L199.4,1345.4 L195.6,1336.4 L191.7,1333.8 L187.9,1339.0 L184.0,1335.1 L180.1,1330.0 L176.3,1327.4 L172.4,1323.6 L168.6,1318.4 L164.7,1315.8 L160.8,1314.5 L158.3,1306.8 L155.7,1303.0 L151.8,1295.2 L148.0,1292.7 L144.1,1295.2 L140.2,1296.5 L136.4,1303.0 L133.8,1301.7 L129.9,1295.2 L127.4,1309.4 L123.5,1292.7 L120.9,1303.0 L117.7,1310.7 L114.5,1303.0 L111.9,1295.2 L109.4,1297.8 L105.5,1292.7 L101.6,1279.8 L97.8,1277.2 L93.9,1282.4 L90.0,1273.4 L86.2,1266.9 L81.0,1272.1 L75.9,1279.8 L70.7,1273.4 L65.6,1272.1 L61.7,1284.9 L57.9,1288.8 L54.0,1288.8 L50.1,1288.8Z" fill="url(#bg)" stroke="none"/>
<line x1="49.8" x2="642.2" y1="1255.6" y2="1255.6" stroke="#cbcbcb" stroke-width="1.5"/>
<text x="40.8" y="1154.1" font-size="16" fill="#6e6e71" text-anchor="end" textLength="19.0" lengthAdjust="spacingAndGlyphs" stroke="#6e6e71" stroke-width="0.22">90</text>
<text x="40.8" y="1261.8" font-size="16" fill="#6e6e71" text-anchor="end" textLength="19.0" lengthAdjust="spacingAndGlyphs" stroke="#6e6e71" stroke-width="0.22">80</text>
<text x="40.8" y="1369.6" font-size="16" fill="#6e6e71" text-anchor="end" textLength="19.0" lengthAdjust="spacingAndGlyphs" stroke="#6e6e71" stroke-width="0.22">70</text>
<text x="40.8" y="1477.9" font-size="16" fill="#6e6e71" text-anchor="end" textLength="19.0" lengthAdjust="spacingAndGlyphs" stroke="#6e6e71" stroke-width="0.22">60</text>
<text x="48.3" y="1137.0" font-size="14" fill="#6e6e71" textLength="23.3" lengthAdjust="spacingAndGlyphs" stroke="#6e6e71" stroke-width="0.22">(%)</text>
<text x="51.4" y="1494.2" font-size="16" fill="#6e6e71" text-anchor="middle" textLength="24.8" lengthAdjust="spacingAndGlyphs" stroke="#6e6e71" stroke-width="0.22">Jan</text>
<text x="101.2" y="1494.2" font-size="16" fill="#6e6e71" text-anchor="middle" textLength="26.5" lengthAdjust="spacingAndGlyphs" stroke="#6e6e71" stroke-width="0.22">Feb</text>
<text x="146.4" y="1494.2" font-size="16" fill="#6e6e71" text-anchor="middle" textLength="26.5" lengthAdjust="spacingAndGlyphs" stroke="#6e6e71" stroke-width="0.22">Mar</text>
<text x="196.4" y="1494.2" font-size="16" fill="#6e6e71" text-anchor="middle" textLength="23.9" lengthAdjust="spacingAndGlyphs" stroke="#6e6e71" stroke-width="0.22">Apr</text>
<text x="245.3" y="1494.2" font-size="16" fill="#6e6e71" text-anchor="middle" textLength="29.0" lengthAdjust="spacingAndGlyphs" stroke="#6e6e71" stroke-width="0.22">May</text>
<text x="295.5" y="1494.2" font-size="16" fill="#6e6e71" text-anchor="middle" textLength="24.8" lengthAdjust="spacingAndGlyphs" stroke="#6e6e71" stroke-width="0.22">Jun</text>
<text x="344.4" y="1494.2" font-size="16" fill="#6e6e71" text-anchor="middle" textLength="19.6" lengthAdjust="spacingAndGlyphs" stroke="#6e6e71" stroke-width="0.22">Jul</text>
<text x="394.8" y="1494.2" font-size="16" fill="#6e6e71" text-anchor="middle" textLength="27.3" lengthAdjust="spacingAndGlyphs" stroke="#6e6e71" stroke-width="0.22">Aug</text>
<text x="445.1" y="1494.2" font-size="16" fill="#6e6e71" text-anchor="middle" textLength="27.3" lengthAdjust="spacingAndGlyphs" stroke="#6e6e71" stroke-width="0.22">Sep</text>
<text x="493.4" y="1494.2" font-size="16" fill="#6e6e71" text-anchor="middle" textLength="23.9" lengthAdjust="spacingAndGlyphs" stroke="#6e6e71" stroke-width="0.22">Oct</text>
<text x="544.3" y="1494.2" font-size="16" fill="#6e6e71" text-anchor="middle" textLength="27.3" lengthAdjust="spacingAndGlyphs" stroke="#6e6e71" stroke-width="0.22">Nov</text>
<text x="592.9" y="1494.2" font-size="16" fill="#6e6e71" text-anchor="middle" textLength="27.3" lengthAdjust="spacingAndGlyphs" stroke="#6e6e71" stroke-width="0.22">Dec</text>
<path d="M50.1,1258.6 L52.1,1257.3 L54.0,1256.0 L55.9,1259.8 L57.9,1249.5 L59.8,1248.9 L61.7,1245.7 L63.7,1254.1 L65.6,1251.5 L68.2,1249.5 L70.1,1256.6 L72.0,1259.8 L74.6,1257.9 L76.5,1258.6 L78.5,1256.0 L80.4,1259.8 L83.0,1259.2 L85.5,1257.3 L88.1,1259.8 L90.7,1261.8 L93.9,1260.5 L96.5,1261.8 L99.1,1259.2 L101.6,1261.1 L104.2,1263.7 L106.8,1266.9 L109.4,1269.5 L111.9,1275.9 L115.1,1271.4 L117.7,1269.5 L120.3,1271.4 L122.9,1268.2 L125.4,1265.6 L128.0,1270.1 L130.6,1268.2 L133.2,1272.1 L135.7,1274.0 L138.3,1278.5 L141.5,1277.9 L144.7,1276.6 L147.3,1277.9 L149.9,1281.1 L152.5,1282.4 L155.7,1287.5 L158.3,1284.9 L160.2,1286.2 L162.8,1291.4 L165.3,1286.9 L167.9,1286.0 L170.5,1287.5 L172.4,1292.0 L175.6,1288.2 L178.2,1292.7 L180.8,1297.8 L183.4,1303.0 L185.9,1306.8 L188.5,1306.8 L191.7,1297.2 L194.3,1304.2 L196.9,1313.3 L199.4,1310.7 L201.4,1306.2 L205.0,1306.8 L205.9,1307.3 L209.6,1313.3 L213.3,1306.6 L216.3,1317.0 L219.2,1320.7 L222.2,1321.4 L225.9,1319.2 L229.6,1317.7 L232.6,1317.0 L236.3,1320.7 L239.2,1324.4 L242.2,1320.7 L245.1,1318.4 L248.1,1324.4 L251.8,1327.3 L255.5,1328.8 L258.5,1323.6 L261.4,1330.3 L264.4,1331.0 L268.1,1329.6 L271.0,1328.8 L274.0,1334.0 L277.0,1335.5 L280.7,1333.3 L284.4,1332.5 L287.6,1327.3 L290.3,1334.7 L293.3,1342.1 L297.0,1347.3 L299.9,1344.4 L302.9,1342.1 L306.6,1349.5 L310.3,1348.1 L313.2,1342.1 L315.5,1346.6 L318.4,1339.9 L322.1,1342.1 L325.1,1338.4 L327.3,1340.7 L330.3,1339.2 L331.7,1332.5 L334.7,1330.3 L337.7,1331.8 L340.6,1327.3 L343.6,1322.1 L347.3,1319.9 L349.5,1325.1 L352.5,1327.3 L356.2,1323.6 L360.0,1321.4 L360.9,1321.4 L363.9,1325.8 L366.8,1330.3 L369.1,1331.0 L372.0,1323.6 L374.2,1325.1 L377.2,1324.4 L380.2,1325.1 L383.1,1328.8 L386.1,1332.5 L389.3,1325.1 L391.3,1326.6 L393.5,1325.8 L395.0,1329.6 L397.2,1325.8 L399.4,1326.6 L401.6,1323.6 L404.1,1322.1 L406.8,1327.3 L409.8,1332.5 L412.0,1329.6 L414.2,1324.4 L416.4,1328.1 L417.9,1322.1 L420.1,1324.4 L423.4,1320.7 L426.0,1327.3 L428.3,1334.7 L430.5,1329.6 L434.9,1329.6 L437.1,1334.7 L440.1,1338.4 L443.1,1334.0 L446.8,1331.8 L449.7,1337.7 L452.7,1340.7 L455.7,1334.7 L458.6,1333.3 L461.6,1334.0 L464.5,1333.3 L466.8,1336.2 L469.7,1336.2 L473.4,1334.0 L477.1,1330.3 L480.8,1329.6 L483.8,1334.0 L486.7,1334.0 L489.7,1336.2 L492.7,1341.4 L496.4,1341.4 L498.6,1334.0 L500.8,1338.4 L503.8,1336.2 L506.0,1335.5 L510.1,1328.8 L511.9,1334.7 L515.0,1340.7 L516.3,1341.0 L519.2,1336.0 L522.0,1337.4 L525.5,1339.6 L528.3,1341.7 L530.5,1333.2 L532.6,1333.9 L535.4,1329.7 L537.5,1325.4 L539.0,1326.8 L541.1,1322.6 L543.2,1326.1 L545.3,1328.2 L547.2,1332.5 L549.6,1326.1 L551.7,1325.4 L553.8,1329.7 L555.2,1326.8 L557.6,1330.4 L559.5,1324.7 L561.6,1319.8 L563.7,1316.9 L565.8,1317.6 L568.0,1316.2 L569.8,1316.9 L571.2,1321.2 L572.9,1306.3 L575.8,1303.5 L577.9,1299.2 L579.7,1304.9 L582.1,1301.4 L584.9,1297.8 L587.8,1289.3 L589.9,1292.2 L592.0,1289.3 L594.1,1287.9 L595.8,1282.3 L598.1,1283.0 L599.5,1278.0 L602.4,1283.0 L604.8,1279.4 L606.9,1274.5 L609.0,1280.8 L611.8,1277.3 L614.0,1275.9 L616.8,1279.4 L618.9,1275.9 L620.3,1268.8 L621.7,1280.8 L624.6,1280.1 L626.7,1282.3 L628.8,1277.3 L630.2,1273.1 L632.4,1273.1 L634.5,1279.4 L636.6,1285.8 L639.4,1283.0 L641.6,1281.6" fill="none" stroke="#6b6b6b" stroke-width="2.1" stroke-linejoin="round" stroke-linecap="round"/>
<path d="M50.1,1277.9 L52.1,1287.5 L54.0,1274.0 L55.6,1284.9 L57.2,1288.8 L59.2,1286.9 L60.7,1285.6 L62.4,1275.9 L64.0,1272.1 L65.6,1259.8 L67.1,1266.9 L68.4,1273.4 L70.7,1274.0 L73.1,1269.5 L74.9,1275.9 L76.5,1281.7 L78.5,1273.4 L80.4,1266.9 L82.3,1268.9 L83.6,1273.4 L85.5,1257.9 L86.8,1260.5 L88.1,1273.4 L89.8,1260.5 L91.3,1256.6 L92.9,1248.3 L94.5,1259.8 L96.5,1256.6 L98.4,1259.8 L100.3,1268.2 L102.3,1272.1 L104.2,1275.9 L106.1,1281.1 L107.4,1278.5 L109.4,1286.2 L110.9,1299.1 L111.9,1263.7 L113.9,1273.4 L115.1,1268.2 L117.1,1280.4 L118.6,1277.2 L120.3,1261.1 L122.0,1268.2 L123.5,1261.8 L125.1,1263.7 L126.7,1279.2 L128.4,1272.7 L129.9,1277.2 L131.5,1273.4 L133.2,1283.7 L135.1,1284.9 L136.6,1272.7 L138.3,1287.5 L140.2,1283.7 L142.8,1286.2 L144.7,1288.8 L146.7,1296.5 L148.0,1286.2 L149.9,1288.8 L152.5,1290.1 L154.4,1294.0 L155.9,1287.5 L157.6,1276.6 L158.9,1313.3 L161.5,1315.8 L163.4,1313.9 L165.3,1315.8 L167.3,1317.1 L169.2,1316.5 L171.8,1322.3 L173.7,1313.3 L175.6,1323.6 L177.6,1321.6 L179.5,1321.0 L181.4,1331.3 L183.4,1333.8 L185.3,1336.4 L187.2,1339.0 L189.1,1339.0 L191.1,1328.7 L193.0,1323.6 L194.9,1315.8 L196.6,1333.8 L198.2,1337.7 L200.1,1321.6 L201.4,1315.8 L203.3,1323.6 L205.0,1336.4 L206.7,1334.7 L208.1,1331.8 L210.4,1333.3 L212.6,1322.9 L214.8,1318.4 L217.0,1331.8 L219.2,1334.7 L220.7,1332.5 L222.9,1337.7 L224.0,1343.6 L226.3,1325.8 L228.1,1337.7 L229.6,1345.8 L231.8,1334.7 L234.0,1331.8 L236.3,1334.7 L238.2,1343.6 L240.7,1351.8 L242.6,1340.7 L244.4,1345.8 L246.6,1337.7 L248.8,1345.1 L250.6,1351.0 L252.5,1342.1 L254.0,1335.5 L256.2,1339.2 L259.2,1340.7 L261.4,1348.1 L263.4,1358.4 L265.1,1354.7 L266.6,1360.6 L268.8,1356.9 L271.0,1358.4 L272.8,1356.2 L274.7,1374.7 L277.0,1367.3 L279.2,1370.3 L281.4,1378.4 L283.6,1382.1 L285.8,1374.7 L288.1,1377.7 L290.3,1384.3 L292.5,1393.2 L294.0,1391.0 L296.2,1399.9 L297.4,1408.0 L299.2,1401.3 L300.7,1413.2 L302.1,1421.3 L303.6,1413.2 L305.4,1419.8 L307.3,1430.9 L310.3,1443.5 L312.5,1433.9 L314.7,1430.2 L316.9,1440.6 L319.2,1435.4 L321.4,1442.0 L325.1,1450.2 L328.0,1447.2 L331.0,1448.7 L334.4,1455.4 L336.5,1445.0 L339.1,1446.5 L342.4,1438.3 L344.3,1443.5 L346.5,1436.1 L349.2,1450.2 L351.7,1440.6 L353.9,1442.0 L356.2,1433.2 L358.1,1430.9 L360.0,1422.8 L360.9,1425.0 L363.1,1438.3 L365.1,1435.4 L366.8,1442.0 L368.6,1445.0 L370.5,1436.9 L373.5,1427.2 L375.7,1436.9 L377.9,1436.1 L380.2,1425.0 L381.9,1422.1 L383.9,1438.3 L385.8,1445.0 L387.9,1445.0 L389.8,1439.8 L391.7,1454.6 L393.8,1445.7 L395.7,1441.3 L397.9,1432.4 L399.7,1440.6 L401.6,1453.1 L403.8,1443.5 L406.1,1439.8 L408.0,1453.1 L409.5,1457.6 L411.2,1447.2 L412.7,1438.3 L414.9,1435.4 L416.9,1427.2 L418.9,1427.2 L420.9,1432.4 L422.8,1422.1 L424.6,1427.2 L426.8,1429.5 L428.7,1435.4 L430.5,1428.7 L433.4,1428.7 L435.7,1433.2 L438.6,1444.3 L440.8,1442.8 L443.1,1436.1 L445.0,1438.3 L447.1,1432.4 L449.0,1431.7 L451.2,1436.1 L454.2,1429.5 L457.1,1419.1 L458.9,1424.3 L460.8,1434.6 L462.8,1422.8 L464.8,1423.5 L466.8,1432.4 L469.0,1424.3 L471.2,1435.4 L473.4,1425.8 L475.6,1429.5 L477.6,1428.0 L479.0,1439.8 L480.8,1426.5 L482.6,1429.5 L484.5,1414.7 L486.7,1401.3 L489.0,1399.1 L491.2,1404.3 L493.4,1429.5 L495.6,1417.6 L497.8,1416.9 L499.8,1410.2 L501.5,1416.1 L504.5,1411.7 L506.7,1415.4 L509.7,1404.3 L511.9,1416.1 L515.0,1413.2 L516.3,1420.2 L518.0,1409.6 L519.9,1401.8 L522.0,1410.3 L524.1,1414.6 L526.2,1401.8 L528.3,1406.8 L529.3,1413.2 L530.8,1391.9 L532.6,1409.6 L534.4,1410.3 L536.1,1412.4 L537.8,1406.1 L539.2,1406.8 L542.5,1389.1 L545.3,1391.9 L548.2,1396.2 L550.3,1400.4 L552.0,1388.4 L553.8,1399.7 L555.9,1384.9 L557.6,1384.1 L559.1,1391.2 L560.9,1376.4 L563.3,1364.3 L565.1,1369.3 L567.0,1375.7 L569.4,1359.4 L570.8,1360.8 L572.9,1346.6 L574.6,1354.4 L576.5,1350.9 L577.9,1338.9 L580.0,1358.0 L582.1,1343.1 L584.0,1345.9 L585.7,1347.4 L588.5,1339.6 L591.3,1335.3 L594.1,1333.2 L597.0,1326.8 L598.4,1314.1 L599.5,1313.4 L600.9,1324.7 L602.6,1325.4 L604.1,1328.2 L605.7,1323.3 L607.2,1322.6 L609.0,1336.0 L610.4,1336.7 L612.3,1344.5 L614.0,1337.4 L616.1,1340.3 L618.2,1343.1 L620.3,1333.9 L621.7,1347.4 L623.9,1339.6 L625.3,1335.3 L626.7,1345.9 L628.4,1341.7 L631.6,1341.0 L633.8,1336.0 L636.6,1332.5 L638.7,1341.7 L641.6,1343.1" fill="none" stroke="#2e86b6" stroke-width="2" stroke-linejoin="round" stroke-linecap="round"/>
<path d="M50.1,1342.9 L52.1,1335.1 L53.8,1329.3 L55.3,1334.5 L57.2,1335.8 L58.9,1331.3 L60.7,1330.0 L62.0,1332.6 L63.7,1323.6 L65.3,1317.1 L66.9,1316.5 L68.4,1324.8 L70.1,1314.5 L71.8,1309.4 L73.3,1315.2 L74.9,1313.3 L76.5,1318.4 L78.5,1317.8 L80.4,1322.3 L81.7,1326.1 L83.4,1314.5 L85.2,1315.8 L86.8,1321.0 L88.8,1320.3 L90.7,1322.9 L92.9,1325.5 L94.5,1310.7 L96.2,1304.2 L97.8,1318.4 L99.3,1306.8 L101.0,1315.8 L102.9,1325.5 L104.5,1321.0 L106.1,1310.7 L107.7,1303.6 L109.0,1316.5 L110.6,1312.0 L112.2,1316.5 L114.1,1327.4 L115.8,1322.3 L117.3,1316.5 L119.0,1323.6 L120.7,1316.5 L122.2,1321.6 L124.2,1331.9 L126.1,1326.1 L128.7,1328.7 L130.6,1330.6 L132.5,1334.5 L134.4,1328.7 L136.4,1332.6 L137.9,1328.1 L139.6,1333.8 L141.3,1330.0 L143.1,1341.6 L144.7,1335.1 L146.4,1319.7 L148.0,1330.0 L149.9,1324.8 L151.8,1325.5 L153.8,1336.4 L155.9,1341.6 L157.6,1333.8 L159.3,1340.3 L160.8,1339.0 L162.4,1330.0 L164.0,1329.3 L165.6,1333.8 L167.5,1319.7 L169.2,1329.3 L171.1,1326.8 L173.4,1330.0 L175.6,1333.8 L177.6,1326.8 L179.5,1330.6 L182.7,1331.3 L184.3,1333.8 L185.9,1320.3 L187.6,1325.5 L189.1,1336.4 L191.1,1321.6 L193.0,1331.3 L194.9,1339.0 L196.9,1337.7 L198.4,1331.9 L200.1,1334.5 L202.0,1332.6 L203.6,1341.6 L205.0,1340.3 L205.9,1348.1 L208.1,1345.1 L210.4,1352.5 L212.6,1358.4 L214.8,1348.1 L216.3,1358.4 L218.1,1361.4 L220.0,1356.9 L222.2,1342.1 L224.4,1334.7 L226.6,1325.8 L228.9,1332.5 L230.8,1328.1 L232.6,1330.3 L234.8,1334.0 L237.0,1319.2 L239.2,1327.3 L241.4,1328.8 L243.7,1334.0 L245.9,1337.7 L248.1,1330.3 L250.3,1334.0 L252.5,1327.3 L255.1,1318.4 L257.0,1321.4 L259.5,1316.2 L261.4,1322.9 L263.4,1331.0 L265.9,1329.6 L267.8,1328.8 L269.6,1323.6 L271.8,1337.7 L274.0,1336.2 L276.2,1342.1 L277.7,1340.7 L279.9,1357.7 L282.1,1353.2 L284.4,1358.4 L286.6,1365.8 L288.8,1369.5 L291.0,1362.9 L293.5,1354.7 L295.5,1365.8 L297.7,1371.7 L300.4,1364.3 L302.1,1379.9 L304.4,1371.7 L306.6,1376.2 L309.2,1382.8 L312.2,1361.4 L314.7,1367.3 L316.9,1376.2 L318.4,1390.2 L320.2,1383.6 L322.9,1392.5 L325.1,1396.9 L327.6,1393.9 L330.0,1385.8 L331.7,1394.7 L334.7,1382.1 L336.9,1389.5 L339.1,1393.9 L342.1,1388.8 L344.3,1385.8 L346.5,1382.1 L349.2,1405.0 L351.0,1379.1 L353.2,1392.5 L355.4,1399.1 L357.6,1391.7 L360.0,1395.4 L362.1,1403.6 L364.6,1395.4 L366.8,1392.5 L369.1,1393.9 L371.0,1387.3 L373.5,1389.5 L375.7,1385.1 L377.2,1374.0 L379.0,1388.0 L380.9,1392.5 L383.1,1394.7 L385.3,1385.1 L386.8,1382.1 L389.0,1393.9 L391.3,1400.6 L393.5,1391.0 L395.7,1395.4 L397.9,1379.1 L400.1,1401.3 L402.4,1393.9 L404.1,1399.1 L406.1,1395.4 L408.0,1399.1 L410.5,1397.6 L412.7,1401.3 L414.9,1405.8 L416.9,1411.7 L418.9,1429.5 L421.3,1417.6 L423.4,1416.1 L425.3,1425.0 L427.5,1422.1 L430.5,1411.7 L432.0,1419.8 L434.9,1419.1 L437.1,1413.9 L439.4,1416.9 L442.0,1430.9 L443.8,1422.1 L446.8,1416.9 L449.7,1420.6 L452.7,1421.3 L454.9,1424.3 L457.1,1415.4 L459.4,1419.1 L462.3,1410.2 L465.3,1411.7 L467.5,1414.7 L469.7,1413.9 L471.9,1416.1 L474.2,1422.1 L477.1,1408.7 L479.3,1413.9 L482.3,1411.7 L485.0,1416.9 L487.0,1417.6 L489.7,1404.3 L491.9,1410.2 L494.1,1408.0 L496.8,1406.5" fill="none" stroke="#c1256f" stroke-width="2" stroke-linejoin="round" stroke-linecap="round"/>
<rect x="287.4" y="1122.9" width="19.4" height="12.5" fill="#dcdcdd"/>
<text x="314.5" y="1137.0" font-size="16" fill="#6e6e71" textLength="71.4" lengthAdjust="spacingAndGlyphs" stroke="#6e6e71" stroke-width="0.22">5-yr range</text>
<line x1="400.9" x2="420.8" y1="1129.2" y2="1129.2" stroke="#6b6b6b" stroke-width="3"/>
<text x="425.8" y="1137.0" font-size="16" fill="#6e6e71" textLength="56.7" lengthAdjust="spacingAndGlyphs" stroke="#6e6e71" stroke-width="0.22">5-yr avg</text>
<line x1="497.1" x2="516.7" y1="1129.2" y2="1129.2" stroke="#c1256f" stroke-width="3"/>
<text x="522.3" y="1137.0" font-size="16" fill="#6e6e71" textLength="34.9" lengthAdjust="spacingAndGlyphs" stroke="#6e6e71" stroke-width="0.22">2021</text>
<line x1="574.4" x2="594.0" y1="1129.2" y2="1129.2" stroke="#2e86b6" stroke-width="3"/>
<text x="599.3" y="1137.0" font-size="16" fill="#6e6e71" textLength="37.3" lengthAdjust="spacingAndGlyphs" stroke="#6e6e71" stroke-width="0.22">2020</text>
<text x="18.5" y="1535.6" font-size="16" fill="#6e6e71" textLength="364.3" lengthAdjust="spacingAndGlyphs" stroke="#6e6e71" stroke-width="0.22">Source: S&amp;P Global Platts Analytics, S&amp;P Global Platts</text>
<text x="957.5" y="1536.0" font-size="16" fill="#6e6e71" textLength="350.0" lengthAdjust="spacingAndGlyphs" stroke="#6e6e71" stroke-width="0.22">Developed by Eric Yep, designed by Junaid Rehman</text>
<text x="677.0" y="1136.5" font-size="16" font-weight="700" fill="#1c1c1c" textLength="76.0" lengthAdjust="spacingAndGlyphs" stroke="#1c1c1c" stroke-width="0.3">Trade Date</text>
<text x="807.5" y="1136.5" font-size="16" font-weight="700" fill="#1c1c1c" textLength="41.0" lengthAdjust="spacingAndGlyphs" stroke="#1c1c1c" stroke-width="0.3">Buyer</text>
<text x="921.5" y="1136.5" font-size="16" font-weight="700" fill="#1c1c1c" textLength="41.0" lengthAdjust="spacingAndGlyphs" stroke="#1c1c1c" stroke-width="0.3">Seller</text>
<text x="1040.5" y="1136.5" font-size="16" font-weight="700" fill="#1c1c1c" textLength="183.0" lengthAdjust="spacingAndGlyphs" stroke="#1c1c1c" stroke-width="0.3">Reported price ($/MMBtu)</text>
<text x="677.0" y="1160.0" font-size="16" fill="#6e6e71" textLength="48.0" lengthAdjust="spacingAndGlyphs" stroke="#6e6e71" stroke-width="0.22">12-Oct</text>
<text x="807.5" y="1160.0" font-size="16" fill="#6e6e71" textLength="27.0" lengthAdjust="spacingAndGlyphs" stroke="#6e6e71" stroke-width="0.22">PTT</text>
<text x="921.5" y="1160.0" font-size="16" fill="#6e6e71" textLength="60.5" lengthAdjust="spacingAndGlyphs" stroke="#6e6e71" stroke-width="0.22">Oil major</text>
<text x="1040.5" y="1160.0" font-size="16" fill="#6e6e71" textLength="203.0" lengthAdjust="spacingAndGlyphs" stroke="#6e6e71" stroke-width="0.22">Buy tender: $35 DES Thailand</text>
<line x1="677.0" x2="1299.5" y1="1168.5" y2="1168.5" stroke="#e2e2e2" stroke-width="1.2"/>
<text x="677.0" y="1183.3" font-size="16" fill="#6e6e71" textLength="48.0" lengthAdjust="spacingAndGlyphs" stroke="#6e6e71" stroke-width="0.22">14-Oct</text>
<text x="807.5" y="1183.3" font-size="16" fill="#6e6e71" textLength="60.0" lengthAdjust="spacingAndGlyphs" stroke="#6e6e71" stroke-width="0.22">Oil major</text>
<text x="921.5" y="1183.3" font-size="16" fill="#6e6e71" textLength="80.5" lengthAdjust="spacingAndGlyphs" stroke="#6e6e71" stroke-width="0.22">Darwin LNG</text>
<text x="1040.5" y="1183.3" font-size="16" fill="#6e6e71" textLength="204.0" lengthAdjust="spacingAndGlyphs" stroke="#6e6e71" stroke-width="0.22">Sell tender: $36-$37 FOB Aus</text>
<line x1="677.0" x2="1299.5" y1="1191.8" y2="1191.8" stroke="#e2e2e2" stroke-width="1.2"/>
<text x="677.0" y="1206.7" font-size="16" fill="#6e6e71" textLength="106.0" lengthAdjust="spacingAndGlyphs" stroke="#6e6e71" stroke-width="0.22">11-Oct -14-Oct</text>
<text x="807.5" y="1206.7" font-size="16" fill="#6e6e71" textLength="37.0" lengthAdjust="spacingAndGlyphs" stroke="#6e6e71" stroke-width="0.22">JERA</text>
<text x="921.5" y="1206.7" font-size="16" fill="#6e6e71" textLength="69.5" lengthAdjust="spacingAndGlyphs" stroke="#6e6e71" stroke-width="0.22">Unverified</text>
<text x="1040.5" y="1206.7" font-size="16" fill="#6e6e71" textLength="204.5" lengthAdjust="spacingAndGlyphs" stroke="#6e6e71" stroke-width="0.22">Bilateral: Disc to Nov/Dec JKM</text>
<line x1="677.0" x2="1299.5" y1="1215.2" y2="1215.2" stroke="#e2e2e2" stroke-width="1.2"/>
<text x="677.0" y="1230.0" font-size="16" fill="#6e6e71" textLength="48.0" lengthAdjust="spacingAndGlyphs" stroke="#6e6e71" stroke-width="0.22">14-Oct</text>
<text x="807.5" y="1230.0" font-size="16" fill="#6e6e71" textLength="85.0" lengthAdjust="spacingAndGlyphs" stroke="#6e6e71" stroke-width="0.22">Russian firm</text>
<text x="921.5" y="1230.0" font-size="16" fill="#6e6e71" textLength="90.0" lengthAdjust="spacingAndGlyphs" stroke="#6e6e71" stroke-width="0.22">Sakhalin LNG</text>
<text x="1040.5" y="1230.0" font-size="16" fill="#6e6e71" textLength="179.5" lengthAdjust="spacingAndGlyphs" stroke="#6e6e71" stroke-width="0.22">Sell tender: $38 DES JKTC</text>
<line x1="677.0" x2="1299.5" y1="1238.5" y2="1238.5" stroke="#e2e2e2" stroke-width="1.2"/>
<text x="677.0" y="1253.4" font-size="16" fill="#6e6e71" textLength="48.0" lengthAdjust="spacingAndGlyphs" stroke="#6e6e71" stroke-width="0.22">14-Oct</text>
<text x="807.5" y="1253.4" font-size="16" fill="#6e6e71" textLength="69.0" lengthAdjust="spacingAndGlyphs" stroke="#6e6e71" stroke-width="0.22">Unverified</text>
<text x="921.5" y="1253.4" font-size="16" fill="#6e6e71" textLength="29.5" lengthAdjust="spacingAndGlyphs" stroke="#6e6e71" stroke-width="0.22">BHP</text>
<text x="1040.5" y="1253.4" font-size="16" fill="#6e6e71" textLength="170.0" lengthAdjust="spacingAndGlyphs" stroke="#6e6e71" stroke-width="0.22">Sell tender: $35 FOB Aus</text>
<line x1="677.0" x2="1299.5" y1="1261.9" y2="1261.9" stroke="#e2e2e2" stroke-width="1.2"/>
<text x="677.0" y="1276.8" font-size="16" fill="#6e6e71" textLength="48.0" lengthAdjust="spacingAndGlyphs" stroke="#6e6e71" stroke-width="0.22">14-Oct</text>
<text x="807.5" y="1276.8" font-size="16" fill="#6e6e71" textLength="30.0" lengthAdjust="spacingAndGlyphs" stroke="#6e6e71" stroke-width="0.22">Vitol</text>
<text x="921.5" y="1276.8" font-size="16" fill="#6e6e71" textLength="61.0" lengthAdjust="spacingAndGlyphs" stroke="#6e6e71" stroke-width="0.22">Trafigura</text>
<text x="1040.5" y="1276.8" font-size="16" fill="#6e6e71" textLength="160.0" lengthAdjust="spacingAndGlyphs" stroke="#6e6e71" stroke-width="0.22">MOC: $37.66 DES JKTC</text>
<line x1="677.0" x2="1299.5" y1="1285.2" y2="1285.2" stroke="#e2e2e2" stroke-width="1.2"/>
<text x="677.0" y="1300.1" font-size="16" fill="#6e6e71" textLength="48.0" lengthAdjust="spacingAndGlyphs" stroke="#6e6e71" stroke-width="0.22">14-Oct</text>
<text x="807.5" y="1300.1" font-size="16" fill="#6e6e71" textLength="61.0" lengthAdjust="spacingAndGlyphs" stroke="#6e6e71" stroke-width="0.22">Trafigura</text>
<text x="921.5" y="1300.1" font-size="16" fill="#6e6e71" textLength="33.0" lengthAdjust="spacingAndGlyphs" stroke="#6e6e71" stroke-width="0.22">Shell</text>
<text x="1040.5" y="1300.1" font-size="16" fill="#6e6e71" textLength="169.5" lengthAdjust="spacingAndGlyphs" stroke="#6e6e71" stroke-width="0.22">MOC: $38.575 DES JKTC</text>
<line x1="677.0" x2="1299.5" y1="1308.6" y2="1308.6" stroke="#e2e2e2" stroke-width="1.2"/>
<text x="677.0" y="1323.5" font-size="16" fill="#6e6e71" textLength="48.0" lengthAdjust="spacingAndGlyphs" stroke="#6e6e71" stroke-width="0.22">18-Oct</text>
<text x="807.5" y="1323.5" font-size="16" fill="#6e6e71" textLength="30.0" lengthAdjust="spacingAndGlyphs" stroke="#6e6e71" stroke-width="0.22">Vitol</text>
<text x="921.5" y="1323.5" font-size="16" fill="#6e6e71" textLength="19.0" lengthAdjust="spacingAndGlyphs" stroke="#6e6e71" stroke-width="0.22">BP</text>
<text x="1040.5" y="1323.5" font-size="16" fill="#6e6e71" textLength="169.5" lengthAdjust="spacingAndGlyphs" stroke="#6e6e71" stroke-width="0.22">MOC: $36.159 DES JKTC</text>
<line x1="677.0" x2="1299.5" y1="1332.0" y2="1332.0" stroke="#e2e2e2" stroke-width="1.2"/>
<text x="677.0" y="1346.8" font-size="16" fill="#6e6e71" textLength="48.0" lengthAdjust="spacingAndGlyphs" stroke="#6e6e71" stroke-width="0.22">20-Oct</text>
<text x="807.5" y="1346.8" font-size="16" fill="#6e6e71" textLength="69.0" lengthAdjust="spacingAndGlyphs" stroke="#6e6e71" stroke-width="0.22">Unverified</text>
<text x="921.5" y="1346.8" font-size="16" fill="#6e6e71" textLength="36.0" lengthAdjust="spacingAndGlyphs" stroke="#6e6e71" stroke-width="0.22">EGAT</text>
<text x="1040.5" y="1346.8" font-size="16" fill="#6e6e71" textLength="182.0" lengthAdjust="spacingAndGlyphs" stroke="#6e6e71" stroke-width="0.22">Nov $34, Dec at dis to JKM</text>
<line x1="677.0" x2="1299.5" y1="1355.3" y2="1355.3" stroke="#e2e2e2" stroke-width="1.2"/>
<text x="677.0" y="1370.2" font-size="16" fill="#6e6e71" textLength="48.0" lengthAdjust="spacingAndGlyphs" stroke="#6e6e71" stroke-width="0.22">21-Oct</text>
<text x="807.5" y="1370.2" font-size="16" fill="#6e6e71" textLength="75.0" lengthAdjust="spacingAndGlyphs" stroke="#6e6e71" stroke-width="0.22">PetroChina</text>
<text x="921.5" y="1370.2" font-size="16" fill="#6e6e71" textLength="33.0" lengthAdjust="spacingAndGlyphs" stroke="#6e6e71" stroke-width="0.22">Shell</text>
<text x="1040.5" y="1370.2" font-size="16" fill="#6e6e71" textLength="151.5" lengthAdjust="spacingAndGlyphs" stroke="#6e6e71" stroke-width="0.22">MOC: $33.75 DES JKC</text>
<line x1="677.0" x2="1299.5" y1="1378.7" y2="1378.7" stroke="#e2e2e2" stroke-width="1.2"/>
<text x="677.0" y="1393.5" font-size="16" fill="#6e6e71" textLength="48.0" lengthAdjust="spacingAndGlyphs" stroke="#6e6e71" stroke-width="0.22">21-Oct</text>
<text x="807.5" y="1393.5" font-size="16" fill="#6e6e71" textLength="30.0" lengthAdjust="spacingAndGlyphs" stroke="#6e6e71" stroke-width="0.22">Vitol</text>
<text x="921.5" y="1393.5" font-size="16" fill="#6e6e71" textLength="75.5" lengthAdjust="spacingAndGlyphs" stroke="#6e6e71" stroke-width="0.22">PetroChina</text>
<text x="1040.5" y="1393.5" font-size="16" fill="#6e6e71" textLength="151.0" lengthAdjust="spacingAndGlyphs" stroke="#6e6e71" stroke-width="0.22">MOC: $34.2 DES JKTC</text>
<line x1="677.0" x2="1299.5" y1="1402.0" y2="1402.0" stroke="#e2e2e2" stroke-width="1.2"/>
<text x="677.0" y="1416.8" font-size="16" fill="#6e6e71" textLength="48.0" lengthAdjust="spacingAndGlyphs" stroke="#6e6e71" stroke-width="0.22">22-Oct</text>
<text x="807.5" y="1416.8" font-size="16" fill="#6e6e71" textLength="30.0" lengthAdjust="spacingAndGlyphs" stroke="#6e6e71" stroke-width="0.22">Vitol</text>
<text x="921.5" y="1416.8" font-size="16" fill="#6e6e71" textLength="75.5" lengthAdjust="spacingAndGlyphs" stroke="#6e6e71" stroke-width="0.22">PetroChina</text>
<text x="1040.5" y="1416.8" font-size="16" fill="#6e6e71" textLength="169.5" lengthAdjust="spacingAndGlyphs" stroke="#6e6e71" stroke-width="0.22">MOC: $33.652 DES JKTC</text>
<line x1="677.0" x2="1299.5" y1="1425.3" y2="1425.3" stroke="#e2e2e2" stroke-width="1.2"/>
<text x="677.0" y="1440.2" font-size="16" fill="#6e6e71" textLength="48.0" lengthAdjust="spacingAndGlyphs" stroke="#6e6e71" stroke-width="0.22">26-Oct</text>
<text x="807.5" y="1440.2" font-size="16" fill="#6e6e71" textLength="27.0" lengthAdjust="spacingAndGlyphs" stroke="#6e6e71" stroke-width="0.22">PTT</text>
<text x="921.5" y="1440.2" font-size="16" fill="#6e6e71" textLength="69.5" lengthAdjust="spacingAndGlyphs" stroke="#6e6e71" stroke-width="0.22">Unverified</text>
<text x="1040.5" y="1440.2" font-size="16" fill="#6e6e71" textLength="205.5" lengthAdjust="spacingAndGlyphs" stroke="#6e6e71" stroke-width="0.22">Buy tender: Low $33 DES Thai</text>
<line x1="677.0" x2="1299.5" y1="1448.7" y2="1448.7" stroke="#e2e2e2" stroke-width="1.2"/>
<text x="677.0" y="1463.5" font-size="16" fill="#6e6e71" textLength="48.0" lengthAdjust="spacingAndGlyphs" stroke="#6e6e71" stroke-width="0.22">26-Oct</text>
<text x="807.5" y="1463.5" font-size="16" fill="#6e6e71" textLength="74.0" lengthAdjust="spacingAndGlyphs" stroke="#6e6e71" stroke-width="0.22">Total, Shell</text>
<text x="921.5" y="1463.5" font-size="16" fill="#6e6e71" textLength="36.0" lengthAdjust="spacingAndGlyphs" stroke="#6e6e71" stroke-width="0.22">EGAT</text>
<text x="1040.5" y="1463.5" font-size="16" fill="#6e6e71" textLength="220.5" lengthAdjust="spacingAndGlyphs" stroke="#6e6e71" stroke-width="0.22">Sell tender: $28.25, $28.70 FOB</text>
<line x1="677.0" x2="1299.5" y1="1472.0" y2="1472.0" stroke="#e2e2e2" stroke-width="1.2"/>
</svg>
</body></html>
